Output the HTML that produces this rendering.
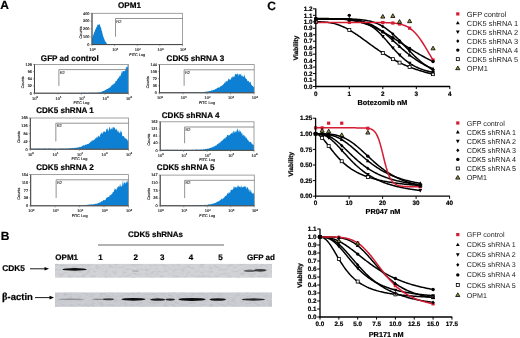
<!DOCTYPE html>
<html><head><meta charset="utf-8"><style>
html,body{margin:0;padding:0;background:#fff;}
svg{display:block;font-family:"Liberation Sans", sans-serif;text-rendering:geometricPrecision;}
</style></head><body>
<svg width="520" height="338" viewBox="0 0 520 338">
<defs><filter id="gb" filterUnits="userSpaceOnUse" x="0" y="0" width="520" height="338"><feGaussianBlur stdDeviation="0.3"/></filter></defs>
<rect width="520" height="338" fill="#fff"/>
<g filter="url(#gb)">
<text x="0.30" y="8.60" font-size="12" font-weight="bold" text-anchor="start" fill="#000"  stroke="#000" stroke-width="0.2">A</text>
<text x="0.80" y="239.60" font-size="12" font-weight="bold" text-anchor="start" fill="#000"  stroke="#000" stroke-width="0.2">B</text>
<text x="267.20" y="9.60" font-size="12" font-weight="bold" text-anchor="start" fill="#000"  stroke="#000" stroke-width="0.2">C</text>
<text x="129.50" y="8.40" font-size="8.1" font-weight="bold" text-anchor="middle" fill="#000"  stroke="#000" stroke-width="0.2">OPM1</text>
<path d="M92.00,44.60 L92.00,38.09 L92.45,37.17 L92.91,35.74 L93.36,35.02 L93.82,33.43 L94.27,32.36 L94.73,31.47 L95.18,29.78 L95.64,29.22 L96.09,27.65 L96.55,27.22 L97.00,26.39 L97.46,25.23 L97.91,24.11 L98.37,24.95 L98.82,24.71 L99.28,24.26 L99.73,24.33 L100.19,25.80 L100.64,27.22 L101.10,27.84 L101.55,30.52 L102.01,31.25 L102.46,33.46 L102.91,35.16 L103.37,36.67 L103.82,37.94 L104.28,38.97 L104.73,40.33 L105.19,41.14 L105.64,41.93 L106.10,42.62 L106.55,43.11 L107.01,43.99 L107.46,44.17 L107.92,44.21 L108.37,44.15 L108.83,44.36 L109.28,44.46 L109.74,44.48 L110.19,44.53 L110.65,44.56 L111.10,44.56 L111.56,44.58 L112.01,44.59 L112.46,44.59 L112.92,44.60 L113.37,44.60 L113.83,44.60 L114.28,44.60 L114.74,44.60 L115.19,44.60 L115.65,44.60 L116.10,44.60 L116.56,44.60 L117.01,44.60 L117.47,44.60 L117.92,44.60 L118.38,44.60 L118.83,44.60 L119.29,44.60 L119.74,44.60 L120.20,44.60 L120.65,44.60 L121.11,44.60 L121.56,44.60 L122.02,44.60 L122.47,44.60 L122.92,44.60 L123.38,44.60 L123.83,44.60 L124.29,44.60 L124.74,44.60 L125.20,44.60 L125.65,44.60 L126.11,44.60 L126.56,44.60 L127.02,44.60 L127.47,44.60 L127.93,44.60 L128.38,44.60 L128.84,44.60 L129.29,44.60 L129.75,44.60 L130.20,44.60 L130.66,44.60 L131.11,44.60 L131.57,44.60 L132.02,44.60 L132.47,44.60 L132.93,44.60 L133.38,44.60 L133.84,44.60 L134.29,44.60 L134.75,44.60 L135.20,44.60 L135.66,44.60 L136.11,44.60 L136.57,44.60 L137.02,44.60 L137.48,44.60 L137.93,44.60 L138.39,44.60 L138.84,44.60 L139.30,44.60 L139.75,44.60 L140.21,44.60 L140.66,44.60 L141.12,44.60 L141.57,44.60 L142.03,44.60 L142.48,44.60 L142.93,44.60 L143.39,44.60 L143.84,44.60 L144.30,44.60 L144.75,44.60 L145.21,44.60 L145.66,44.60 L146.12,44.60 L146.57,44.60 L147.03,44.60 L147.48,44.60 L147.94,44.60 L148.39,44.60 L148.85,44.60 L149.30,44.60 L149.76,44.60 L150.21,44.60 L150.67,44.60 L151.12,44.60 L151.58,44.60 L152.03,44.60 L152.48,44.60 L152.94,44.60 L153.39,44.60 L153.85,44.60 L154.30,44.60 L154.76,44.60 L155.21,44.60 L155.67,44.60 L156.12,44.60 L156.58,44.60 L157.03,44.60 L157.49,44.60 L157.94,44.60 L158.40,44.60 L158.85,44.60 L159.31,44.60 L159.76,44.60 L160.22,44.60 L160.67,44.60 L161.13,44.60 L161.58,44.60 L162.04,44.60 L162.49,44.60 L162.94,44.60 L163.40,44.60 L163.85,44.60 L164.31,44.60 L164.76,44.60 L165.22,44.60 L165.67,44.60 L166.13,44.60 L166.58,44.60 L167.04,44.60 L167.49,44.60 L167.95,44.60 L168.40,44.60 L168.86,44.60 L169.31,44.60 L169.77,44.60 L170.22,44.60 L170.68,44.60 L171.13,44.60 L171.59,44.60 L172.04,44.60 L172.49,44.60 L172.95,44.60 L173.40,44.60 L173.86,44.60 L174.31,44.60 L174.77,44.60 L175.22,44.60 L175.68,44.60 L176.13,44.60 L176.59,44.60 L177.04,44.60 L177.50,44.60 L177.95,44.60 L178.41,44.60 L178.86,44.60 L179.32,44.60 L179.77,44.60 L180.23,44.60 L180.68,44.60 L181.14,44.60 L181.59,44.60 L182.05,44.60 L182.50,44.60 L182.50,44.60 Z" fill="#0a80d4" stroke="none"/>
<rect x="92.00" y="13.30" width="90.50" height="31.30" fill="none" stroke="#8a8a8a" stroke-width="0.8"/>
<line x1="92.00" y1="13.30" x2="92.00" y2="44.60" stroke="#444" stroke-width="1.0" />
<line x1="92.00" y1="44.60" x2="182.50" y2="44.60" stroke="#444" stroke-width="1.0" />
<path d="M115.53,36.78 L115.53,18.50 L182.50,18.50" fill="none" stroke="#666" stroke-width="0.7"/>
<text x="116.33" y="22.50" font-size="4.0" font-weight="normal" text-anchor="start" fill="#333" stroke="#333" stroke-width="0.12">R2</text>
<line x1="90.50" y1="44.60" x2="92.00" y2="44.60" stroke="#666" stroke-width="0.6" />
<text x="89.40" y="45.90" font-size="3.8" font-weight="normal" text-anchor="end" fill="#222" stroke="#222" stroke-width="0.15">0</text>
<line x1="90.50" y1="36.77" x2="92.00" y2="36.77" stroke="#666" stroke-width="0.6" />
<text x="89.40" y="38.07" font-size="3.8" font-weight="normal" text-anchor="end" fill="#222" stroke="#222" stroke-width="0.15">100</text>
<line x1="90.50" y1="28.95" x2="92.00" y2="28.95" stroke="#666" stroke-width="0.6" />
<text x="89.40" y="30.25" font-size="3.8" font-weight="normal" text-anchor="end" fill="#222" stroke="#222" stroke-width="0.15">200</text>
<line x1="90.50" y1="21.12" x2="92.00" y2="21.12" stroke="#666" stroke-width="0.6" />
<text x="89.40" y="22.43" font-size="3.8" font-weight="normal" text-anchor="end" fill="#222" stroke="#222" stroke-width="0.15">300</text>
<line x1="90.50" y1="13.30" x2="92.00" y2="13.30" stroke="#666" stroke-width="0.6" />
<text x="89.40" y="14.60" font-size="3.8" font-weight="normal" text-anchor="end" fill="#222" stroke="#222" stroke-width="0.15">400</text>
<line x1="92.00" y1="44.60" x2="92.00" y2="46.10" stroke="#666" stroke-width="0.6" />
<text x="92.60" y="51.10" font-size="4.0" font-weight="normal" text-anchor="middle" fill="#222" stroke="#222" stroke-width="0.15">10<tspan font-size="2.8" dy="-1.6">0</tspan></text>
<line x1="114.62" y1="44.60" x2="114.62" y2="46.10" stroke="#666" stroke-width="0.6" />
<text x="115.22" y="51.10" font-size="4.0" font-weight="normal" text-anchor="middle" fill="#222" stroke="#222" stroke-width="0.15">10<tspan font-size="2.8" dy="-1.6">1</tspan></text>
<line x1="137.25" y1="44.60" x2="137.25" y2="46.10" stroke="#666" stroke-width="0.6" />
<text x="137.85" y="51.10" font-size="4.0" font-weight="normal" text-anchor="middle" fill="#222" stroke="#222" stroke-width="0.15">10<tspan font-size="2.8" dy="-1.6">2</tspan></text>
<line x1="159.88" y1="44.60" x2="159.88" y2="46.10" stroke="#666" stroke-width="0.6" />
<text x="160.47" y="51.10" font-size="4.0" font-weight="normal" text-anchor="middle" fill="#222" stroke="#222" stroke-width="0.15">10<tspan font-size="2.8" dy="-1.6">3</tspan></text>
<line x1="182.50" y1="44.60" x2="182.50" y2="46.10" stroke="#666" stroke-width="0.6" />
<text x="183.10" y="51.10" font-size="4.0" font-weight="normal" text-anchor="middle" fill="#222" stroke="#222" stroke-width="0.15">10<tspan font-size="2.8" dy="-1.6">4</tspan></text>
<text x="137.25" y="55.60" font-size="3.8" font-weight="normal" text-anchor="middle" fill="#222" stroke="#222" stroke-width="0.15">FITC Log</text>
<text x="81.80" y="32.45" font-size="3.8" font-weight="normal" text-anchor="middle" fill="#222" stroke="#222" stroke-width="0.15" transform="rotate(-90 81.80 32.45)">Counts</text>
<text x="69.80" y="60.60" font-size="8.1" font-weight="bold" text-anchor="middle" fill="#000"  stroke="#000" stroke-width="0.2">GFP ad control</text>
<path d="M34.50,93.20 L34.50,93.20 L34.96,93.20 L35.41,93.20 L35.87,93.20 L36.32,93.20 L36.78,93.20 L37.23,93.20 L37.69,93.20 L38.14,93.20 L38.60,93.20 L39.05,93.20 L39.51,93.20 L39.96,93.20 L40.42,93.20 L40.87,93.20 L41.33,93.20 L41.79,93.20 L42.24,93.20 L42.70,93.20 L43.15,93.20 L43.61,93.20 L44.06,93.20 L44.52,93.20 L44.97,93.20 L45.43,93.20 L45.88,93.20 L46.34,93.20 L46.79,93.20 L47.25,93.20 L47.70,93.20 L48.16,93.20 L48.62,93.20 L49.07,93.20 L49.53,93.20 L49.98,93.20 L50.44,93.20 L50.89,93.20 L51.35,93.20 L51.80,93.20 L52.26,93.20 L52.71,93.20 L53.17,93.20 L53.62,93.20 L54.08,93.20 L54.53,93.20 L54.99,93.20 L55.45,93.20 L55.90,93.20 L56.36,93.20 L56.81,93.20 L57.27,93.20 L57.72,93.20 L58.18,93.20 L58.63,93.20 L59.09,93.20 L59.54,93.20 L60.00,93.20 L60.45,93.20 L60.91,93.20 L61.37,93.20 L61.82,93.20 L62.28,93.20 L62.73,93.20 L63.19,93.19 L63.64,93.18 L64.10,93.17 L64.55,93.18 L65.01,93.16 L65.46,93.17 L65.92,93.16 L66.37,93.13 L66.83,93.14 L67.28,93.13 L67.74,93.11 L68.20,93.08 L68.65,93.12 L69.11,93.09 L69.56,93.10 L70.02,93.09 L70.47,93.06 L70.93,93.08 L71.38,93.07 L71.84,93.07 L72.29,92.99 L72.75,93.02 L73.20,92.99 L73.66,92.97 L74.11,93.07 L74.57,93.01 L75.03,92.94 L75.48,92.95 L75.94,93.08 L76.39,93.07 L76.85,93.00 L77.30,93.08 L77.76,93.03 L78.21,93.07 L78.67,92.92 L79.12,92.89 L79.58,92.85 L80.03,93.03 L80.49,92.88 L80.94,92.89 L81.40,93.02 L81.86,92.81 L82.31,92.77 L82.77,92.99 L83.22,92.76 L83.68,92.92 L84.13,92.89 L84.59,92.72 L85.04,92.76 L85.50,92.98 L85.95,92.88 L86.41,92.84 L86.86,92.90 L87.32,92.95 L87.77,92.90 L88.23,92.74 L88.69,93.00 L89.14,92.79 L89.60,92.83 L90.05,92.99 L90.51,92.86 L90.96,92.73 L91.42,92.77 L91.87,92.96 L92.33,92.55 L92.78,92.63 L93.24,92.54 L93.69,92.92 L94.15,92.84 L94.60,92.95 L95.06,92.59 L95.52,92.83 L95.97,92.89 L96.43,92.74 L96.88,92.48 L97.34,92.50 L97.79,92.77 L98.25,92.79 L98.70,92.22 L99.16,92.37 L99.61,92.16 L100.07,92.63 L100.52,92.59 L100.98,91.93 L101.43,91.85 L101.89,91.80 L102.35,91.36 L102.80,91.27 L103.26,91.01 L103.71,91.12 L104.17,90.53 L104.62,90.72 L105.08,90.03 L105.53,90.02 L105.99,89.84 L106.44,89.41 L106.90,88.82 L107.35,89.07 L107.81,88.90 L108.27,88.21 L108.72,88.18 L109.18,88.00 L109.63,87.61 L110.09,87.41 L110.54,86.87 L111.00,86.35 L111.45,85.97 L111.91,84.86 L112.36,85.20 L112.82,84.42 L113.27,84.57 L113.73,83.82 L114.18,84.04 L114.64,83.11 L115.10,83.18 L115.55,81.06 L116.01,80.97 L116.46,81.36 L116.92,80.12 L117.37,78.32 L117.83,80.08 L118.28,77.46 L118.74,78.04 L119.19,77.26 L119.65,75.55 L120.10,76.42 L120.56,75.42 L121.01,74.13 L121.47,70.83 L121.93,74.16 L122.38,71.53 L122.84,71.35 L123.29,70.95 L123.75,71.28 L124.20,70.86 L124.66,71.57 L125.11,70.55 L125.57,70.17 L126.02,66.02 L126.48,67.83 L126.93,67.62 L127.39,67.34 L127.84,64.40 L128.30,64.40 L128.30,93.20 Z" fill="#0a80d4" stroke="none"/>
<rect x="34.50" y="64.40" width="93.80" height="28.80" fill="none" stroke="#8a8a8a" stroke-width="0.8"/>
<line x1="34.50" y1="64.40" x2="34.50" y2="93.20" stroke="#444" stroke-width="1.0" />
<line x1="34.50" y1="93.20" x2="128.30" y2="93.20" stroke="#444" stroke-width="1.0" />
<path d="M58.89,86.00 L58.89,69.60 L128.30,69.60" fill="none" stroke="#666" stroke-width="0.7"/>
<text x="59.69" y="73.60" font-size="4.0" font-weight="normal" text-anchor="start" fill="#333" stroke="#333" stroke-width="0.12">R2</text>
<line x1="33.00" y1="93.20" x2="34.50" y2="93.20" stroke="#666" stroke-width="0.6" />
<text x="31.90" y="94.50" font-size="3.8" font-weight="normal" text-anchor="end" fill="#222" stroke="#222" stroke-width="0.15">0</text>
<line x1="33.00" y1="86.00" x2="34.50" y2="86.00" stroke="#666" stroke-width="0.6" />
<text x="31.90" y="87.30" font-size="3.8" font-weight="normal" text-anchor="end" fill="#222" stroke="#222" stroke-width="0.15">32</text>
<line x1="33.00" y1="78.80" x2="34.50" y2="78.80" stroke="#666" stroke-width="0.6" />
<text x="31.90" y="80.10" font-size="3.8" font-weight="normal" text-anchor="end" fill="#222" stroke="#222" stroke-width="0.15">64</text>
<line x1="33.00" y1="71.60" x2="34.50" y2="71.60" stroke="#666" stroke-width="0.6" />
<text x="31.90" y="72.90" font-size="3.8" font-weight="normal" text-anchor="end" fill="#222" stroke="#222" stroke-width="0.15">96</text>
<line x1="33.00" y1="64.40" x2="34.50" y2="64.40" stroke="#666" stroke-width="0.6" />
<text x="31.90" y="65.70" font-size="3.8" font-weight="normal" text-anchor="end" fill="#222" stroke="#222" stroke-width="0.15">128</text>
<line x1="34.50" y1="93.20" x2="34.50" y2="94.70" stroke="#666" stroke-width="0.6" />
<text x="35.10" y="99.70" font-size="4.0" font-weight="normal" text-anchor="middle" fill="#222" stroke="#222" stroke-width="0.15">10<tspan font-size="2.8" dy="-1.6">0</tspan></text>
<line x1="57.95" y1="93.20" x2="57.95" y2="94.70" stroke="#666" stroke-width="0.6" />
<text x="58.55" y="99.70" font-size="4.0" font-weight="normal" text-anchor="middle" fill="#222" stroke="#222" stroke-width="0.15">10<tspan font-size="2.8" dy="-1.6">1</tspan></text>
<line x1="81.40" y1="93.20" x2="81.40" y2="94.70" stroke="#666" stroke-width="0.6" />
<text x="82.00" y="99.70" font-size="4.0" font-weight="normal" text-anchor="middle" fill="#222" stroke="#222" stroke-width="0.15">10<tspan font-size="2.8" dy="-1.6">2</tspan></text>
<line x1="104.85" y1="93.20" x2="104.85" y2="94.70" stroke="#666" stroke-width="0.6" />
<text x="105.45" y="99.70" font-size="4.0" font-weight="normal" text-anchor="middle" fill="#222" stroke="#222" stroke-width="0.15">10<tspan font-size="2.8" dy="-1.6">3</tspan></text>
<line x1="128.30" y1="93.20" x2="128.30" y2="94.70" stroke="#666" stroke-width="0.6" />
<text x="128.90" y="99.70" font-size="4.0" font-weight="normal" text-anchor="middle" fill="#222" stroke="#222" stroke-width="0.15">10<tspan font-size="2.8" dy="-1.6">4</tspan></text>
<text x="81.40" y="104.20" font-size="3.8" font-weight="normal" text-anchor="middle" fill="#222" stroke="#222" stroke-width="0.15">FITC Log</text>
<text x="24.30" y="82.30" font-size="3.8" font-weight="normal" text-anchor="middle" fill="#222" stroke="#222" stroke-width="0.15" transform="rotate(-90 24.30 82.30)">Counts</text>
<text x="195.40" y="60.60" font-size="8.1" font-weight="bold" text-anchor="middle" fill="#000"  stroke="#000" stroke-width="0.2">CDK5 shRNA 3</text>
<path d="M159.50,92.80 L159.50,92.30 L159.96,92.47 L160.41,92.49 L160.87,92.46 L161.32,92.39 L161.78,92.52 L162.23,92.40 L162.69,92.48 L163.14,92.18 L163.60,92.18 L164.05,92.36 L164.51,92.49 L164.96,92.18 L165.42,92.46 L165.87,92.44 L166.33,92.59 L166.78,92.43 L167.24,92.39 L167.70,92.38 L168.15,92.50 L168.61,92.37 L169.06,92.59 L169.52,92.48 L169.97,92.55 L170.43,92.42 L170.88,92.57 L171.34,92.58 L171.79,92.46 L172.25,92.49 L172.70,92.34 L173.16,92.36 L173.61,92.27 L174.07,92.31 L174.52,92.29 L174.98,92.22 L175.44,92.42 L175.89,92.45 L176.35,92.17 L176.80,92.53 L177.26,92.28 L177.71,92.32 L178.17,92.57 L178.62,92.23 L179.08,92.21 L179.53,92.32 L179.99,92.28 L180.44,92.24 L180.90,92.53 L181.35,92.37 L181.81,92.37 L182.26,92.23 L182.72,92.25 L183.18,92.24 L183.63,92.34 L184.09,92.21 L184.54,92.30 L185.00,92.29 L185.45,92.49 L185.91,92.57 L186.36,92.53 L186.82,92.43 L187.27,92.54 L187.73,92.23 L188.18,92.34 L188.64,92.31 L189.09,92.31 L189.55,92.29 L190.00,92.37 L190.46,92.58 L190.91,92.23 L191.37,92.25 L191.83,92.35 L192.28,92.34 L192.74,92.28 L193.19,92.54 L193.65,92.23 L194.10,92.45 L194.56,92.53 L195.01,92.44 L195.47,92.21 L195.92,92.46 L196.38,92.18 L196.83,92.05 L197.29,92.29 L197.74,92.34 L198.20,92.27 L198.65,92.15 L199.11,92.08 L199.57,92.15 L200.02,92.11 L200.48,92.44 L200.93,92.38 L201.39,92.30 L201.84,91.94 L202.30,92.22 L202.75,92.00 L203.21,92.40 L203.66,92.34 L204.12,92.14 L204.57,91.74 L205.03,91.66 L205.48,91.62 L205.94,91.96 L206.39,91.66 L206.85,91.62 L207.31,91.55 L207.76,91.57 L208.22,91.28 L208.67,91.39 L209.13,90.93 L209.58,90.97 L210.04,91.18 L210.49,90.91 L210.95,90.65 L211.40,90.28 L211.86,90.54 L212.31,90.49 L212.77,90.37 L213.22,89.82 L213.68,90.07 L214.13,89.67 L214.59,89.77 L215.05,89.32 L215.50,88.80 L215.96,89.21 L216.41,88.44 L216.87,88.46 L217.32,87.87 L217.78,87.77 L218.23,87.98 L218.69,87.01 L219.14,87.17 L219.60,87.43 L220.05,87.19 L220.51,86.27 L220.96,86.01 L221.42,85.90 L221.87,85.83 L222.33,85.19 L222.79,84.90 L223.24,83.66 L223.70,84.78 L224.15,83.06 L224.61,82.50 L225.06,83.55 L225.52,81.53 L225.97,81.58 L226.43,80.77 L226.88,81.77 L227.34,81.21 L227.79,80.80 L228.25,77.89 L228.70,79.56 L229.16,79.81 L229.61,79.27 L230.07,79.36 L230.52,79.69 L230.98,79.22 L231.44,76.72 L231.89,78.07 L232.35,75.75 L232.80,77.63 L233.26,77.31 L233.71,76.26 L234.17,77.09 L234.62,76.25 L235.08,74.05 L235.53,74.09 L235.99,74.16 L236.44,74.64 L236.90,73.49 L237.35,73.27 L237.81,74.59 L238.26,73.90 L238.72,76.28 L239.18,73.77 L239.63,74.79 L240.09,73.72 L240.54,74.19 L241.00,75.59 L241.45,76.58 L241.91,73.66 L242.36,76.69 L242.82,75.75 L243.27,76.48 L243.73,76.95 L244.18,75.87 L244.64,74.26 L245.09,78.17 L245.55,77.40 L246.00,78.90 L246.46,78.63 L246.92,79.56 L247.37,80.64 L247.83,81.13 L248.28,81.50 L248.74,80.38 L249.19,81.84 L249.65,82.93 L250.10,82.05 L250.56,81.68 L251.01,83.96 L251.47,84.97 L251.92,85.33 L252.38,85.92 L252.83,85.99 L253.29,86.74 L253.74,86.95 L254.20,87.31 L254.20,92.80 Z" fill="#0a80d4" stroke="none"/>
<rect x="159.50" y="64.60" width="94.70" height="28.20" fill="none" stroke="#8a8a8a" stroke-width="0.8"/>
<line x1="159.50" y1="64.60" x2="159.50" y2="92.80" stroke="#444" stroke-width="1.0" />
<line x1="159.50" y1="92.80" x2="254.20" y2="92.80" stroke="#444" stroke-width="1.0" />
<path d="M184.12,85.75 L184.12,69.80 L254.20,69.80" fill="none" stroke="#666" stroke-width="0.7"/>
<text x="184.92" y="73.80" font-size="4.0" font-weight="normal" text-anchor="start" fill="#333" stroke="#333" stroke-width="0.12">R2</text>
<line x1="158.00" y1="92.80" x2="159.50" y2="92.80" stroke="#666" stroke-width="0.6" />
<text x="156.90" y="94.10" font-size="3.8" font-weight="normal" text-anchor="end" fill="#222" stroke="#222" stroke-width="0.15">0</text>
<line x1="158.00" y1="85.75" x2="159.50" y2="85.75" stroke="#666" stroke-width="0.6" />
<text x="156.90" y="87.05" font-size="3.8" font-weight="normal" text-anchor="end" fill="#222" stroke="#222" stroke-width="0.15">36</text>
<line x1="158.00" y1="78.70" x2="159.50" y2="78.70" stroke="#666" stroke-width="0.6" />
<text x="156.90" y="80.00" font-size="3.8" font-weight="normal" text-anchor="end" fill="#222" stroke="#222" stroke-width="0.15">72</text>
<line x1="158.00" y1="71.65" x2="159.50" y2="71.65" stroke="#666" stroke-width="0.6" />
<text x="156.90" y="72.95" font-size="3.8" font-weight="normal" text-anchor="end" fill="#222" stroke="#222" stroke-width="0.15">108</text>
<line x1="158.00" y1="64.60" x2="159.50" y2="64.60" stroke="#666" stroke-width="0.6" />
<text x="156.90" y="65.90" font-size="3.8" font-weight="normal" text-anchor="end" fill="#222" stroke="#222" stroke-width="0.15">144</text>
<line x1="159.50" y1="92.80" x2="159.50" y2="94.30" stroke="#666" stroke-width="0.6" />
<text x="160.10" y="99.30" font-size="4.0" font-weight="normal" text-anchor="middle" fill="#222" stroke="#222" stroke-width="0.15">10<tspan font-size="2.8" dy="-1.6">0</tspan></text>
<line x1="183.18" y1="92.80" x2="183.18" y2="94.30" stroke="#666" stroke-width="0.6" />
<text x="183.78" y="99.30" font-size="4.0" font-weight="normal" text-anchor="middle" fill="#222" stroke="#222" stroke-width="0.15">10<tspan font-size="2.8" dy="-1.6">1</tspan></text>
<line x1="206.85" y1="92.80" x2="206.85" y2="94.30" stroke="#666" stroke-width="0.6" />
<text x="207.45" y="99.30" font-size="4.0" font-weight="normal" text-anchor="middle" fill="#222" stroke="#222" stroke-width="0.15">10<tspan font-size="2.8" dy="-1.6">2</tspan></text>
<line x1="230.52" y1="92.80" x2="230.52" y2="94.30" stroke="#666" stroke-width="0.6" />
<text x="231.12" y="99.30" font-size="4.0" font-weight="normal" text-anchor="middle" fill="#222" stroke="#222" stroke-width="0.15">10<tspan font-size="2.8" dy="-1.6">3</tspan></text>
<line x1="254.20" y1="92.80" x2="254.20" y2="94.30" stroke="#666" stroke-width="0.6" />
<text x="254.80" y="99.30" font-size="4.0" font-weight="normal" text-anchor="middle" fill="#222" stroke="#222" stroke-width="0.15">10<tspan font-size="2.8" dy="-1.6">4</tspan></text>
<text x="206.85" y="103.80" font-size="3.8" font-weight="normal" text-anchor="middle" fill="#222" stroke="#222" stroke-width="0.15">FITC Log</text>
<text x="149.30" y="82.20" font-size="3.8" font-weight="normal" text-anchor="middle" fill="#222" stroke="#222" stroke-width="0.15" transform="rotate(-90 149.30 82.20)">Counts</text>
<text x="65.00" y="113.10" font-size="8.1" font-weight="bold" text-anchor="middle" fill="#000"  stroke="#000" stroke-width="0.2">CDK5 shRNA 1</text>
<path d="M30.30,149.20 L30.30,148.70 L30.75,148.55 L31.21,148.62 L31.66,148.77 L32.12,148.77 L32.57,148.72 L33.03,148.79 L33.48,148.81 L33.94,148.94 L34.39,148.84 L34.85,148.51 L35.30,148.91 L35.76,148.73 L36.21,148.67 L36.66,148.56 L37.12,148.86 L37.57,148.84 L38.03,148.85 L38.48,148.78 L38.94,148.76 L39.39,148.52 L39.85,148.57 L40.30,148.56 L40.76,148.96 L41.21,148.95 L41.67,148.63 L42.12,148.55 L42.58,148.74 L43.03,148.69 L43.48,148.97 L43.94,148.78 L44.39,148.53 L44.85,148.58 L45.30,148.56 L45.76,148.51 L46.21,148.85 L46.67,148.91 L47.12,148.89 L47.58,148.72 L48.03,148.64 L48.49,148.52 L48.94,148.62 L49.39,148.66 L49.85,148.60 L50.30,148.75 L50.76,148.70 L51.21,148.94 L51.67,148.59 L52.12,148.85 L52.58,148.53 L53.03,148.65 L53.49,148.82 L53.94,148.90 L54.40,148.84 L54.85,148.65 L55.30,148.62 L55.76,148.90 L56.21,148.92 L56.67,148.70 L57.12,148.67 L57.58,148.76 L58.03,148.84 L58.49,148.65 L58.94,148.94 L59.40,148.79 L59.85,148.71 L60.31,148.45 L60.76,148.60 L61.21,148.47 L61.67,148.68 L62.12,148.80 L62.58,148.79 L63.03,148.39 L63.49,148.52 L63.94,148.74 L64.40,148.89 L64.85,148.60 L65.31,148.48 L65.76,148.63 L66.22,148.72 L66.67,148.44 L67.12,148.24 L67.58,148.70 L68.03,148.82 L68.49,148.58 L68.94,148.50 L69.40,148.27 L69.85,148.63 L70.31,148.10 L70.76,148.11 L71.22,148.28 L71.67,148.53 L72.13,147.74 L72.58,148.36 L73.04,147.77 L73.49,148.37 L73.94,148.34 L74.40,147.63 L74.85,147.95 L75.31,147.70 L75.76,147.76 L76.22,147.78 L76.67,147.70 L77.13,147.55 L77.58,147.38 L78.04,147.18 L78.49,147.38 L78.95,147.18 L79.40,147.15 L79.85,146.51 L80.31,146.96 L80.76,146.89 L81.22,146.76 L81.67,146.44 L82.13,146.00 L82.58,145.84 L83.04,145.76 L83.49,145.12 L83.95,145.25 L84.40,145.51 L84.86,145.44 L85.31,144.62 L85.76,144.56 L86.22,144.99 L86.67,144.17 L87.13,144.22 L87.58,143.99 L88.04,143.79 L88.49,143.73 L88.95,143.69 L89.40,143.09 L89.86,142.72 L90.31,141.60 L90.77,142.49 L91.22,140.33 L91.67,141.79 L92.13,141.24 L92.58,140.14 L93.04,139.79 L93.49,140.14 L93.95,140.54 L94.40,139.38 L94.86,139.24 L95.31,137.74 L95.77,138.94 L96.22,138.22 L96.68,136.62 L97.13,138.31 L97.59,137.03 L98.04,135.65 L98.49,135.38 L98.95,136.95 L99.40,136.64 L99.86,136.23 L100.31,133.40 L100.77,134.99 L101.22,133.16 L101.68,132.32 L102.13,133.74 L102.59,133.63 L103.04,131.03 L103.50,131.84 L103.95,132.75 L104.40,130.86 L104.86,131.98 L105.31,131.86 L105.77,132.60 L106.22,129.56 L106.68,128.70 L107.13,129.53 L107.59,128.10 L108.04,131.48 L108.50,130.48 L108.95,129.35 L109.41,127.26 L109.86,127.12 L110.31,129.30 L110.77,129.75 L111.22,128.92 L111.68,128.59 L112.13,126.74 L112.59,129.79 L113.04,127.20 L113.50,127.47 L113.95,127.16 L114.41,127.44 L114.86,128.24 L115.32,129.53 L115.77,129.74 L116.22,129.78 L116.68,128.36 L117.13,131.40 L117.59,131.23 L118.04,129.47 L118.50,131.72 L118.95,132.75 L119.41,133.24 L119.86,131.85 L120.32,133.08 L120.77,130.11 L121.23,132.25 L121.68,131.25 L122.14,135.16 L122.59,136.17 L123.04,136.62 L123.50,136.04 L123.95,136.04 L124.41,137.23 L124.86,138.24 L125.32,138.33 L125.77,138.41 L126.23,138.82 L126.68,139.20 L127.14,139.54 L127.59,140.36 L128.05,141.72 L128.50,141.04 L128.50,149.20 Z" fill="#0a80d4" stroke="none"/>
<rect x="30.30" y="118.00" width="98.20" height="31.20" fill="none" stroke="#8a8a8a" stroke-width="0.8"/>
<line x1="30.30" y1="118.00" x2="30.30" y2="149.20" stroke="#444" stroke-width="1.0" />
<line x1="30.30" y1="149.20" x2="128.50" y2="149.20" stroke="#444" stroke-width="1.0" />
<path d="M55.83,141.40 L55.83,123.20 L128.50,123.20" fill="none" stroke="#666" stroke-width="0.7"/>
<text x="56.63" y="127.20" font-size="4.0" font-weight="normal" text-anchor="start" fill="#333" stroke="#333" stroke-width="0.12">R2</text>
<line x1="28.80" y1="149.20" x2="30.30" y2="149.20" stroke="#666" stroke-width="0.6" />
<text x="27.70" y="150.50" font-size="3.8" font-weight="normal" text-anchor="end" fill="#222" stroke="#222" stroke-width="0.15">0</text>
<line x1="28.80" y1="141.40" x2="30.30" y2="141.40" stroke="#666" stroke-width="0.6" />
<text x="27.70" y="142.70" font-size="3.8" font-weight="normal" text-anchor="end" fill="#222" stroke="#222" stroke-width="0.15">42</text>
<line x1="28.80" y1="133.60" x2="30.30" y2="133.60" stroke="#666" stroke-width="0.6" />
<text x="27.70" y="134.90" font-size="3.8" font-weight="normal" text-anchor="end" fill="#222" stroke="#222" stroke-width="0.15">84</text>
<line x1="28.80" y1="125.80" x2="30.30" y2="125.80" stroke="#666" stroke-width="0.6" />
<text x="27.70" y="127.10" font-size="3.8" font-weight="normal" text-anchor="end" fill="#222" stroke="#222" stroke-width="0.15">126</text>
<line x1="28.80" y1="118.00" x2="30.30" y2="118.00" stroke="#666" stroke-width="0.6" />
<text x="27.70" y="119.30" font-size="3.8" font-weight="normal" text-anchor="end" fill="#222" stroke="#222" stroke-width="0.15">168</text>
<line x1="30.30" y1="149.20" x2="30.30" y2="150.70" stroke="#666" stroke-width="0.6" />
<text x="30.90" y="155.70" font-size="4.0" font-weight="normal" text-anchor="middle" fill="#222" stroke="#222" stroke-width="0.15">10<tspan font-size="2.8" dy="-1.6">0</tspan></text>
<line x1="54.85" y1="149.20" x2="54.85" y2="150.70" stroke="#666" stroke-width="0.6" />
<text x="55.45" y="155.70" font-size="4.0" font-weight="normal" text-anchor="middle" fill="#222" stroke="#222" stroke-width="0.15">10<tspan font-size="2.8" dy="-1.6">1</tspan></text>
<line x1="79.40" y1="149.20" x2="79.40" y2="150.70" stroke="#666" stroke-width="0.6" />
<text x="80.00" y="155.70" font-size="4.0" font-weight="normal" text-anchor="middle" fill="#222" stroke="#222" stroke-width="0.15">10<tspan font-size="2.8" dy="-1.6">2</tspan></text>
<line x1="103.95" y1="149.20" x2="103.95" y2="150.70" stroke="#666" stroke-width="0.6" />
<text x="104.55" y="155.70" font-size="4.0" font-weight="normal" text-anchor="middle" fill="#222" stroke="#222" stroke-width="0.15">10<tspan font-size="2.8" dy="-1.6">3</tspan></text>
<line x1="128.50" y1="149.20" x2="128.50" y2="150.70" stroke="#666" stroke-width="0.6" />
<text x="129.10" y="155.70" font-size="4.0" font-weight="normal" text-anchor="middle" fill="#222" stroke="#222" stroke-width="0.15">10<tspan font-size="2.8" dy="-1.6">4</tspan></text>
<text x="79.40" y="160.20" font-size="3.8" font-weight="normal" text-anchor="middle" fill="#222" stroke="#222" stroke-width="0.15">FITC Log</text>
<text x="20.10" y="137.10" font-size="3.8" font-weight="normal" text-anchor="middle" fill="#222" stroke="#222" stroke-width="0.15" transform="rotate(-90 20.10 137.10)">Counts</text>
<text x="190.60" y="117.60" font-size="8.1" font-weight="bold" text-anchor="middle" fill="#000"  stroke="#000" stroke-width="0.2">CDK5 shRNA 4</text>
<path d="M160.20,150.30 L160.20,149.96 L160.66,149.84 L161.11,149.93 L161.57,149.77 L162.02,150.00 L162.48,149.98 L162.93,149.98 L163.39,150.02 L163.84,149.71 L164.30,149.84 L164.75,149.95 L165.21,149.92 L165.66,149.66 L166.12,149.87 L166.57,149.99 L167.03,149.74 L167.49,149.81 L167.94,149.66 L168.40,150.04 L168.85,149.88 L169.31,149.74 L169.76,149.73 L170.22,149.70 L170.67,150.07 L171.13,149.96 L171.58,150.04 L172.04,150.01 L172.49,149.67 L172.95,149.84 L173.40,149.69 L173.86,149.93 L174.32,149.72 L174.77,149.89 L175.23,149.98 L175.68,149.75 L176.14,149.68 L176.59,150.04 L177.05,149.83 L177.50,149.82 L177.96,149.99 L178.41,149.93 L178.87,150.03 L179.32,150.00 L179.78,149.98 L180.23,149.83 L180.69,149.81 L181.15,150.00 L181.60,150.08 L182.06,149.95 L182.51,149.80 L182.97,150.01 L183.42,149.95 L183.88,150.00 L184.33,149.74 L184.79,149.85 L185.24,150.06 L185.70,150.04 L186.15,149.91 L186.61,149.85 L187.07,149.81 L187.52,150.04 L187.98,150.01 L188.43,149.78 L188.89,149.90 L189.34,149.96 L189.80,149.94 L190.25,149.66 L190.71,149.94 L191.16,149.82 L191.62,149.91 L192.07,149.89 L192.53,149.68 L192.98,149.61 L193.44,149.90 L193.90,149.97 L194.35,149.72 L194.81,149.96 L195.26,150.05 L195.72,149.60 L196.17,149.83 L196.63,149.62 L197.08,149.82 L197.54,149.55 L197.99,149.76 L198.45,149.92 L198.90,150.00 L199.36,149.66 L199.81,149.58 L200.27,149.37 L200.73,149.90 L201.18,149.50 L201.64,149.65 L202.09,149.52 L202.55,149.77 L203.00,149.63 L203.46,149.37 L203.91,148.93 L204.37,149.68 L204.82,149.24 L205.28,148.81 L205.73,148.88 L206.19,149.09 L206.64,149.03 L207.10,148.71 L207.56,148.47 L208.01,148.65 L208.47,148.69 L208.92,148.25 L209.38,148.33 L209.83,147.98 L210.29,147.95 L210.74,147.69 L211.20,147.87 L211.65,147.36 L212.11,147.50 L212.56,147.20 L213.02,146.70 L213.47,146.48 L213.93,146.73 L214.39,146.48 L214.84,146.08 L215.30,145.72 L215.75,145.58 L216.21,145.56 L216.66,145.16 L217.12,144.32 L217.57,143.78 L218.03,144.51 L218.48,143.50 L218.94,142.87 L219.39,143.56 L219.85,141.98 L220.30,142.76 L220.76,141.57 L221.22,141.26 L221.67,140.71 L222.13,140.92 L222.58,140.30 L223.04,139.55 L223.49,139.47 L223.95,138.52 L224.40,138.59 L224.86,138.20 L225.31,138.84 L225.77,136.90 L226.22,136.83 L226.68,137.14 L227.13,135.25 L227.59,134.79 L228.05,135.36 L228.50,135.85 L228.96,134.59 L229.41,135.43 L229.87,135.06 L230.32,133.75 L230.78,134.62 L231.23,133.15 L231.69,132.65 L232.14,134.09 L232.60,131.74 L233.05,133.56 L233.51,131.00 L233.97,130.69 L234.42,131.55 L234.88,133.17 L235.33,131.41 L235.79,131.83 L236.24,129.64 L236.70,132.73 L237.15,130.04 L237.61,128.09 L238.06,130.70 L238.52,130.54 L238.97,133.01 L239.43,128.88 L239.88,132.35 L240.34,130.97 L240.80,131.43 L241.25,134.34 L241.71,132.57 L242.16,132.49 L242.62,135.68 L243.07,135.16 L243.53,134.34 L243.98,136.56 L244.44,134.87 L244.89,137.08 L245.35,136.09 L245.80,138.32 L246.26,137.88 L246.71,137.37 L247.17,139.52 L247.63,139.86 L248.08,139.81 L248.54,140.66 L248.99,141.65 L249.45,141.81 L249.90,142.27 L250.36,141.42 L250.81,142.29 L251.27,142.42 L251.72,143.86 L252.18,143.43 L252.63,144.66 L253.09,144.52 L253.54,144.77 L254.00,145.39 L254.00,150.30 Z" fill="#0a80d4" stroke="none"/>
<rect x="160.20" y="121.80" width="93.80" height="28.50" fill="none" stroke="#8a8a8a" stroke-width="0.8"/>
<line x1="160.20" y1="121.80" x2="160.20" y2="150.30" stroke="#444" stroke-width="1.0" />
<line x1="160.20" y1="150.30" x2="254.00" y2="150.30" stroke="#444" stroke-width="1.0" />
<path d="M184.59,143.18 L184.59,127.00 L254.00,127.00" fill="none" stroke="#666" stroke-width="0.7"/>
<text x="185.39" y="131.00" font-size="4.0" font-weight="normal" text-anchor="start" fill="#333" stroke="#333" stroke-width="0.12">R2</text>
<line x1="158.70" y1="150.30" x2="160.20" y2="150.30" stroke="#666" stroke-width="0.6" />
<text x="157.60" y="151.60" font-size="3.8" font-weight="normal" text-anchor="end" fill="#222" stroke="#222" stroke-width="0.15">0</text>
<line x1="158.70" y1="143.18" x2="160.20" y2="143.18" stroke="#666" stroke-width="0.6" />
<text x="157.60" y="144.48" font-size="3.8" font-weight="normal" text-anchor="end" fill="#222" stroke="#222" stroke-width="0.15">40</text>
<line x1="158.70" y1="136.05" x2="160.20" y2="136.05" stroke="#666" stroke-width="0.6" />
<text x="157.60" y="137.35" font-size="3.8" font-weight="normal" text-anchor="end" fill="#222" stroke="#222" stroke-width="0.15">81</text>
<line x1="158.70" y1="128.93" x2="160.20" y2="128.93" stroke="#666" stroke-width="0.6" />
<text x="157.60" y="130.23" font-size="3.8" font-weight="normal" text-anchor="end" fill="#222" stroke="#222" stroke-width="0.15">121</text>
<line x1="158.70" y1="121.80" x2="160.20" y2="121.80" stroke="#666" stroke-width="0.6" />
<text x="157.60" y="123.10" font-size="3.8" font-weight="normal" text-anchor="end" fill="#222" stroke="#222" stroke-width="0.15">162</text>
<line x1="160.20" y1="150.30" x2="160.20" y2="151.80" stroke="#666" stroke-width="0.6" />
<text x="160.80" y="156.80" font-size="4.0" font-weight="normal" text-anchor="middle" fill="#222" stroke="#222" stroke-width="0.15">10<tspan font-size="2.8" dy="-1.6">0</tspan></text>
<line x1="183.65" y1="150.30" x2="183.65" y2="151.80" stroke="#666" stroke-width="0.6" />
<text x="184.25" y="156.80" font-size="4.0" font-weight="normal" text-anchor="middle" fill="#222" stroke="#222" stroke-width="0.15">10<tspan font-size="2.8" dy="-1.6">1</tspan></text>
<line x1="207.10" y1="150.30" x2="207.10" y2="151.80" stroke="#666" stroke-width="0.6" />
<text x="207.70" y="156.80" font-size="4.0" font-weight="normal" text-anchor="middle" fill="#222" stroke="#222" stroke-width="0.15">10<tspan font-size="2.8" dy="-1.6">2</tspan></text>
<line x1="230.55" y1="150.30" x2="230.55" y2="151.80" stroke="#666" stroke-width="0.6" />
<text x="231.15" y="156.80" font-size="4.0" font-weight="normal" text-anchor="middle" fill="#222" stroke="#222" stroke-width="0.15">10<tspan font-size="2.8" dy="-1.6">3</tspan></text>
<line x1="254.00" y1="150.30" x2="254.00" y2="151.80" stroke="#666" stroke-width="0.6" />
<text x="254.60" y="156.80" font-size="4.0" font-weight="normal" text-anchor="middle" fill="#222" stroke="#222" stroke-width="0.15">10<tspan font-size="2.8" dy="-1.6">4</tspan></text>
<text x="207.10" y="161.30" font-size="3.8" font-weight="normal" text-anchor="middle" fill="#222" stroke="#222" stroke-width="0.15">FITC Log</text>
<text x="150.00" y="139.55" font-size="3.8" font-weight="normal" text-anchor="middle" fill="#222" stroke="#222" stroke-width="0.15" transform="rotate(-90 150.00 139.55)">Counts</text>
<text x="65.00" y="169.60" font-size="8.1" font-weight="bold" text-anchor="middle" fill="#000"  stroke="#000" stroke-width="0.2">CDK5 shRNA 2</text>
<path d="M30.70,205.80 L30.70,205.80 L31.15,205.80 L31.61,205.80 L32.06,205.80 L32.52,205.80 L32.97,205.80 L33.43,205.80 L33.88,205.80 L34.34,205.80 L34.79,205.80 L35.25,205.80 L35.70,205.80 L36.16,205.80 L36.61,205.80 L37.07,205.80 L37.52,205.80 L37.98,205.80 L38.43,205.80 L38.89,205.80 L39.34,205.80 L39.80,205.80 L40.25,205.80 L40.71,205.80 L41.16,205.80 L41.62,205.80 L42.07,205.80 L42.53,205.80 L42.98,205.80 L43.44,205.80 L43.89,205.80 L44.35,205.80 L44.80,205.80 L45.26,205.80 L45.71,205.80 L46.17,205.80 L46.62,205.80 L47.08,205.80 L47.53,205.80 L47.99,205.80 L48.44,205.80 L48.90,205.80 L49.35,205.80 L49.81,205.80 L50.26,205.80 L50.71,205.80 L51.17,205.80 L51.62,205.80 L52.08,205.80 L52.53,205.80 L52.99,205.80 L53.44,205.80 L53.90,205.80 L54.35,205.80 L54.81,205.80 L55.26,205.80 L55.72,205.80 L56.17,205.80 L56.63,205.80 L57.08,205.80 L57.54,205.80 L57.99,205.80 L58.45,205.80 L58.90,205.79 L59.36,205.79 L59.81,205.80 L60.27,205.79 L60.72,205.79 L61.18,205.78 L61.63,205.77 L62.09,205.77 L62.54,205.77 L63.00,205.73 L63.45,205.77 L63.91,205.73 L64.36,205.69 L64.82,205.75 L65.27,205.74 L65.73,205.69 L66.18,205.69 L66.64,205.67 L67.09,205.64 L67.55,205.71 L68.00,205.69 L68.46,205.68 L68.91,205.71 L69.37,205.57 L69.82,205.58 L70.27,205.58 L70.73,205.70 L71.18,205.53 L71.64,205.54 L72.09,205.59 L72.55,205.52 L73.00,205.57 L73.46,205.62 L73.91,205.64 L74.37,205.60 L74.82,205.65 L75.28,205.56 L75.73,205.43 L76.19,205.43 L76.64,205.36 L77.10,205.39 L77.55,205.53 L78.01,205.42 L78.46,205.45 L78.92,205.30 L79.37,205.39 L79.83,205.48 L80.28,205.30 L80.74,205.14 L81.19,205.46 L81.65,205.13 L82.10,205.54 L82.56,205.40 L83.01,205.40 L83.47,205.09 L83.92,204.94 L84.38,205.03 L84.83,205.27 L85.29,204.88 L85.74,205.22 L86.20,205.26 L86.65,204.73 L87.11,204.90 L87.56,204.81 L88.02,204.79 L88.47,204.46 L88.93,204.88 L89.38,204.47 L89.83,204.55 L90.29,204.31 L90.74,204.72 L91.20,204.32 L91.65,204.51 L92.11,204.52 L92.56,204.48 L93.02,204.29 L93.47,204.37 L93.93,204.02 L94.38,204.19 L94.84,204.15 L95.29,204.02 L95.75,203.59 L96.20,203.72 L96.66,203.69 L97.11,203.63 L97.57,203.49 L98.02,203.01 L98.48,202.88 L98.93,202.68 L99.39,202.47 L99.84,202.73 L100.30,202.18 L100.75,202.14 L101.21,201.57 L101.66,201.32 L102.12,201.00 L102.57,201.51 L103.03,200.47 L103.48,200.12 L103.94,199.77 L104.39,200.42 L104.85,200.00 L105.30,199.81 L105.76,199.60 L106.21,198.11 L106.67,197.76 L107.12,197.64 L107.58,196.92 L108.03,196.82 L108.49,197.02 L108.94,196.97 L109.39,196.58 L109.85,194.79 L110.30,195.52 L110.76,194.83 L111.21,194.13 L111.67,194.67 L112.12,193.64 L112.58,193.12 L113.03,191.48 L113.49,191.98 L113.94,191.66 L114.40,188.06 L114.85,190.20 L115.31,188.63 L115.76,188.92 L116.22,190.46 L116.67,188.75 L117.13,188.26 L117.58,186.63 L118.04,187.80 L118.49,186.07 L118.95,186.32 L119.40,187.23 L119.86,184.31 L120.31,187.10 L120.77,183.79 L121.22,186.19 L121.68,186.63 L122.13,185.52 L122.59,182.82 L123.04,179.83 L123.50,185.68 L123.95,183.28 L124.41,183.06 L124.86,181.45 L125.32,184.08 L125.77,182.45 L126.23,182.97 L126.68,180.52 L127.14,183.08 L127.59,179.65 L128.05,182.69 L128.50,182.90 L128.50,205.80 Z" fill="#0a80d4" stroke="none"/>
<rect x="30.70" y="174.60" width="97.80" height="31.20" fill="none" stroke="#8a8a8a" stroke-width="0.8"/>
<line x1="30.70" y1="174.60" x2="30.70" y2="205.80" stroke="#444" stroke-width="1.0" />
<line x1="30.70" y1="205.80" x2="128.50" y2="205.80" stroke="#444" stroke-width="1.0" />
<path d="M56.13,198.00 L56.13,179.80 L128.50,179.80" fill="none" stroke="#666" stroke-width="0.7"/>
<text x="56.93" y="183.80" font-size="4.0" font-weight="normal" text-anchor="start" fill="#333" stroke="#333" stroke-width="0.12">R2</text>
<line x1="29.20" y1="205.80" x2="30.70" y2="205.80" stroke="#666" stroke-width="0.6" />
<text x="28.10" y="207.10" font-size="3.8" font-weight="normal" text-anchor="end" fill="#222" stroke="#222" stroke-width="0.15">0</text>
<line x1="29.20" y1="198.00" x2="30.70" y2="198.00" stroke="#666" stroke-width="0.6" />
<text x="28.10" y="199.30" font-size="3.8" font-weight="normal" text-anchor="end" fill="#222" stroke="#222" stroke-width="0.15">38</text>
<line x1="29.20" y1="190.20" x2="30.70" y2="190.20" stroke="#666" stroke-width="0.6" />
<text x="28.10" y="191.50" font-size="3.8" font-weight="normal" text-anchor="end" fill="#222" stroke="#222" stroke-width="0.15">77</text>
<line x1="29.20" y1="182.40" x2="30.70" y2="182.40" stroke="#666" stroke-width="0.6" />
<text x="28.10" y="183.70" font-size="3.8" font-weight="normal" text-anchor="end" fill="#222" stroke="#222" stroke-width="0.15">115</text>
<line x1="29.20" y1="174.60" x2="30.70" y2="174.60" stroke="#666" stroke-width="0.6" />
<text x="28.10" y="175.90" font-size="3.8" font-weight="normal" text-anchor="end" fill="#222" stroke="#222" stroke-width="0.15">154</text>
<line x1="30.70" y1="205.80" x2="30.70" y2="207.30" stroke="#666" stroke-width="0.6" />
<text x="31.30" y="212.30" font-size="4.0" font-weight="normal" text-anchor="middle" fill="#222" stroke="#222" stroke-width="0.15">10<tspan font-size="2.8" dy="-1.6">0</tspan></text>
<line x1="55.15" y1="205.80" x2="55.15" y2="207.30" stroke="#666" stroke-width="0.6" />
<text x="55.75" y="212.30" font-size="4.0" font-weight="normal" text-anchor="middle" fill="#222" stroke="#222" stroke-width="0.15">10<tspan font-size="2.8" dy="-1.6">1</tspan></text>
<line x1="79.60" y1="205.80" x2="79.60" y2="207.30" stroke="#666" stroke-width="0.6" />
<text x="80.20" y="212.30" font-size="4.0" font-weight="normal" text-anchor="middle" fill="#222" stroke="#222" stroke-width="0.15">10<tspan font-size="2.8" dy="-1.6">2</tspan></text>
<line x1="104.05" y1="205.80" x2="104.05" y2="207.30" stroke="#666" stroke-width="0.6" />
<text x="104.65" y="212.30" font-size="4.0" font-weight="normal" text-anchor="middle" fill="#222" stroke="#222" stroke-width="0.15">10<tspan font-size="2.8" dy="-1.6">3</tspan></text>
<line x1="128.50" y1="205.80" x2="128.50" y2="207.30" stroke="#666" stroke-width="0.6" />
<text x="129.10" y="212.30" font-size="4.0" font-weight="normal" text-anchor="middle" fill="#222" stroke="#222" stroke-width="0.15">10<tspan font-size="2.8" dy="-1.6">4</tspan></text>
<text x="79.60" y="216.80" font-size="3.8" font-weight="normal" text-anchor="middle" fill="#222" stroke="#222" stroke-width="0.15">FITC Log</text>
<text x="20.50" y="193.70" font-size="3.8" font-weight="normal" text-anchor="middle" fill="#222" stroke="#222" stroke-width="0.15" transform="rotate(-90 20.50 193.70)">Counts</text>
<text x="185.70" y="169.60" font-size="8.1" font-weight="bold" text-anchor="middle" fill="#000"  stroke="#000" stroke-width="0.2">CDK5 shRNA 5</text>
<path d="M160.20,205.80 L160.20,205.25 L160.65,205.34 L161.11,205.52 L161.56,205.28 L162.02,205.53 L162.47,205.21 L162.93,205.25 L163.38,205.21 L163.84,205.28 L164.29,205.41 L164.75,205.38 L165.20,205.39 L165.66,205.16 L166.11,205.53 L166.56,205.16 L167.02,205.56 L167.47,205.47 L167.93,205.45 L168.38,205.15 L168.84,205.34 L169.29,205.40 L169.75,205.16 L170.20,205.46 L170.66,205.36 L171.11,205.32 L171.56,205.22 L172.02,205.22 L172.47,205.27 L172.93,205.41 L173.38,205.42 L173.84,205.50 L174.29,205.18 L174.75,205.26 L175.20,205.23 L175.66,205.49 L176.11,205.37 L176.57,205.21 L177.02,205.30 L177.47,205.51 L177.93,205.36 L178.38,205.16 L178.84,205.46 L179.29,205.48 L179.75,205.43 L180.20,205.25 L180.66,205.18 L181.11,205.50 L181.57,205.50 L182.02,205.46 L182.47,205.42 L182.93,205.33 L183.38,205.50 L183.84,205.42 L184.29,205.48 L184.75,205.12 L185.20,205.23 L185.66,205.52 L186.11,205.12 L186.57,205.52 L187.02,205.39 L187.48,205.11 L187.93,205.20 L188.38,205.23 L188.84,205.37 L189.29,205.48 L189.75,205.27 L190.20,205.52 L190.66,205.47 L191.11,205.39 L191.57,205.55 L192.02,205.38 L192.48,205.19 L192.93,205.24 L193.39,205.33 L193.84,205.26 L194.29,205.34 L194.75,205.49 L195.20,205.27 L195.66,205.36 L196.11,205.19 L196.57,205.10 L197.02,205.34 L197.48,205.26 L197.93,205.16 L198.39,205.32 L198.84,205.42 L199.29,205.15 L199.75,205.05 L200.20,205.10 L200.66,205.12 L201.11,205.02 L201.57,205.10 L202.02,205.10 L202.48,205.20 L202.93,205.27 L203.39,205.04 L203.84,205.38 L204.30,205.14 L204.75,204.84 L205.20,204.85 L205.66,204.87 L206.11,205.15 L206.57,204.97 L207.02,204.89 L207.48,204.68 L207.93,204.84 L208.39,204.48 L208.84,204.10 L209.30,204.62 L209.75,204.42 L210.20,204.30 L210.66,204.32 L211.11,204.19 L211.57,203.79 L212.02,204.14 L212.48,203.83 L212.93,203.86 L213.39,203.46 L213.84,203.23 L214.30,203.27 L214.75,203.33 L215.21,202.89 L215.66,202.72 L216.11,202.41 L216.57,202.33 L217.02,202.02 L217.48,201.63 L217.93,201.62 L218.39,201.46 L218.84,200.70 L219.30,201.13 L219.75,200.35 L220.21,200.36 L220.66,199.62 L221.11,200.07 L221.57,198.11 L222.02,199.11 L222.48,199.20 L222.93,198.53 L223.39,197.97 L223.84,198.23 L224.30,197.16 L224.75,196.76 L225.21,195.82 L225.66,196.08 L226.12,195.85 L226.57,195.53 L227.02,193.95 L227.48,193.03 L227.93,193.56 L228.39,193.90 L228.84,191.97 L229.30,192.61 L229.75,192.70 L230.21,192.53 L230.66,190.24 L231.12,189.71 L231.57,189.83 L232.03,189.95 L232.48,189.28 L232.93,190.03 L233.39,185.82 L233.84,188.94 L234.30,187.62 L234.75,186.67 L235.21,186.38 L235.66,187.39 L236.12,187.81 L236.57,186.64 L237.03,188.07 L237.48,185.17 L237.93,186.89 L238.39,184.83 L238.84,187.03 L239.30,186.54 L239.75,186.99 L240.21,186.29 L240.66,187.25 L241.12,188.01 L241.57,185.22 L242.03,187.03 L242.48,187.27 L242.94,187.16 L243.39,186.60 L243.84,186.96 L244.30,186.34 L244.75,186.46 L245.21,187.78 L245.66,185.93 L246.12,186.46 L246.57,189.58 L247.03,187.13 L247.48,187.18 L247.94,187.92 L248.39,190.39 L248.84,188.45 L249.30,189.44 L249.75,191.73 L250.21,192.06 L250.66,189.59 L251.12,190.86 L251.57,192.39 L252.03,193.16 L252.48,193.41 L252.94,193.53 L253.39,192.54 L253.85,194.00 L254.30,194.83 L254.30,205.80 Z" fill="#0a80d4" stroke="none"/>
<rect x="160.20" y="175.10" width="94.10" height="30.70" fill="none" stroke="#8a8a8a" stroke-width="0.8"/>
<line x1="160.20" y1="175.10" x2="160.20" y2="205.80" stroke="#444" stroke-width="1.0" />
<line x1="160.20" y1="205.80" x2="254.30" y2="205.80" stroke="#444" stroke-width="1.0" />
<path d="M184.67,198.12 L184.67,180.30 L254.30,180.30" fill="none" stroke="#666" stroke-width="0.7"/>
<text x="185.47" y="184.30" font-size="4.0" font-weight="normal" text-anchor="start" fill="#333" stroke="#333" stroke-width="0.12">R2</text>
<line x1="158.70" y1="205.80" x2="160.20" y2="205.80" stroke="#666" stroke-width="0.6" />
<text x="157.60" y="207.10" font-size="3.8" font-weight="normal" text-anchor="end" fill="#222" stroke="#222" stroke-width="0.15">0</text>
<line x1="158.70" y1="198.12" x2="160.20" y2="198.12" stroke="#666" stroke-width="0.6" />
<text x="157.60" y="199.43" font-size="3.8" font-weight="normal" text-anchor="end" fill="#222" stroke="#222" stroke-width="0.15">36</text>
<line x1="158.70" y1="190.45" x2="160.20" y2="190.45" stroke="#666" stroke-width="0.6" />
<text x="157.60" y="191.75" font-size="3.8" font-weight="normal" text-anchor="end" fill="#222" stroke="#222" stroke-width="0.15">73</text>
<line x1="158.70" y1="182.78" x2="160.20" y2="182.78" stroke="#666" stroke-width="0.6" />
<text x="157.60" y="184.08" font-size="3.8" font-weight="normal" text-anchor="end" fill="#222" stroke="#222" stroke-width="0.15">110</text>
<line x1="158.70" y1="175.10" x2="160.20" y2="175.10" stroke="#666" stroke-width="0.6" />
<text x="157.60" y="176.40" font-size="3.8" font-weight="normal" text-anchor="end" fill="#222" stroke="#222" stroke-width="0.15">147</text>
<line x1="160.20" y1="205.80" x2="160.20" y2="207.30" stroke="#666" stroke-width="0.6" />
<text x="160.80" y="212.30" font-size="4.0" font-weight="normal" text-anchor="middle" fill="#222" stroke="#222" stroke-width="0.15">10<tspan font-size="2.8" dy="-1.6">0</tspan></text>
<line x1="183.72" y1="205.80" x2="183.72" y2="207.30" stroke="#666" stroke-width="0.6" />
<text x="184.32" y="212.30" font-size="4.0" font-weight="normal" text-anchor="middle" fill="#222" stroke="#222" stroke-width="0.15">10<tspan font-size="2.8" dy="-1.6">1</tspan></text>
<line x1="207.25" y1="205.80" x2="207.25" y2="207.30" stroke="#666" stroke-width="0.6" />
<text x="207.85" y="212.30" font-size="4.0" font-weight="normal" text-anchor="middle" fill="#222" stroke="#222" stroke-width="0.15">10<tspan font-size="2.8" dy="-1.6">2</tspan></text>
<line x1="230.78" y1="205.80" x2="230.78" y2="207.30" stroke="#666" stroke-width="0.6" />
<text x="231.38" y="212.30" font-size="4.0" font-weight="normal" text-anchor="middle" fill="#222" stroke="#222" stroke-width="0.15">10<tspan font-size="2.8" dy="-1.6">3</tspan></text>
<line x1="254.30" y1="205.80" x2="254.30" y2="207.30" stroke="#666" stroke-width="0.6" />
<text x="254.90" y="212.30" font-size="4.0" font-weight="normal" text-anchor="middle" fill="#222" stroke="#222" stroke-width="0.15">10<tspan font-size="2.8" dy="-1.6">4</tspan></text>
<text x="207.25" y="216.80" font-size="3.8" font-weight="normal" text-anchor="middle" fill="#222" stroke="#222" stroke-width="0.15">FITC Log</text>
<text x="150.00" y="193.95" font-size="3.8" font-weight="normal" text-anchor="middle" fill="#222" stroke="#222" stroke-width="0.15" transform="rotate(-90 150.00 193.95)">Counts</text>
<text x="155.50" y="236.90" font-size="8" font-weight="bold" text-anchor="middle" fill="#000"  stroke="#000" stroke-width="0.2">CDK5 shRNAs</text>
<line x1="98.00" y1="245.00" x2="224.00" y2="245.00" stroke="#666" stroke-width="1.1" />
<text x="66.70" y="259.80" font-size="8" font-weight="bold" text-anchor="middle" fill="#000"  stroke="#000" stroke-width="0.2">OPM1</text>
<text x="100.50" y="259.80" font-size="8" font-weight="bold" text-anchor="middle" fill="#000"  stroke="#000" stroke-width="0.2">1</text>
<text x="135.70" y="259.80" font-size="8" font-weight="bold" text-anchor="middle" fill="#000"  stroke="#000" stroke-width="0.2">2</text>
<text x="162.20" y="259.80" font-size="8" font-weight="bold" text-anchor="middle" fill="#000"  stroke="#000" stroke-width="0.2">3</text>
<text x="191.00" y="259.80" font-size="8" font-weight="bold" text-anchor="middle" fill="#000"  stroke="#000" stroke-width="0.2">4</text>
<text x="220.40" y="259.80" font-size="8" font-weight="bold" text-anchor="middle" fill="#000"  stroke="#000" stroke-width="0.2">5</text>
<text x="261.00" y="259.80" font-size="8" font-weight="bold" text-anchor="middle" fill="#000"  stroke="#000" stroke-width="0.2">GFP ad</text>
<text x="2.20" y="270.60" font-size="8.4" font-weight="bold" text-anchor="start" fill="#000"  stroke="#000" stroke-width="0.2">CDK5</text>
<text x="2.00" y="299.90" font-size="9.5" font-weight="bold" text-anchor="start" fill="#000"  stroke="#000" stroke-width="0.2"><tspan font-weight="bold" font-family="Liberation Serif, serif" font-size="10.5">β</tspan>-actin</text>
<line x1="30.00" y1="268.80" x2="45.50" y2="268.80" stroke="#000" stroke-width="0.9" />
<path d="M44.50,267.00 L49.00,268.80 L44.50,270.60 Z" fill="#000"/>
<line x1="35.00" y1="297.60" x2="50.50" y2="297.60" stroke="#000" stroke-width="0.9" />
<path d="M49.50,295.80 L54.00,297.60 L49.50,299.40 Z" fill="#000"/>
<defs><filter id="blur1" x="-20%" y="-50%" width="140%" height="200%"><feGaussianBlur stdDeviation="0.45"/></filter><filter id="blur2" x="-5%" y="-20%" width="110%" height="140%"><feGaussianBlur stdDeviation="0.5"/></filter></defs>
<defs><filter id="tex" filterUnits="userSpaceOnUse" x="55" y="260" width="217" height="50"><feTurbulence type="fractalNoise" baseFrequency="0.22 0.45" numOctaves="2" seed="5" result="n"/><feColorMatrix in="n" type="matrix" values="0 0 0 0 0.45  0 0 0 0 0.46  0 0 0 0 0.5  1.6 0 0 0 -0.72" result="c"/><feComposite in="c" in2="SourceGraphic" operator="in"/></filter></defs>
<rect x="55" y="263.9" width="217" height="13.8" fill="#d2d3d7"/>
<rect x="55" y="292.4" width="217" height="14.4" fill="#cbcdd2"/>
<rect x="55" y="263.9" width="217" height="13.8" filter="url(#tex)" opacity="0.85"/>
<rect x="55" y="292.4" width="217" height="14.4" filter="url(#tex)" opacity="0.85"/>
<ellipse cx="74.55" cy="269.40" rx="12.25" ry="1.30" fill="#111" opacity="1.0" filter="url(#blur1)"/>
<ellipse cx="249.75" cy="270.80" rx="6.25" ry="1.30" fill="#111" opacity="0.55" filter="url(#blur1)"/>
<ellipse cx="260.25" cy="270.30" rx="6.25" ry="1.40" fill="#111" opacity="0.75" filter="url(#blur1)"/>
<ellipse cx="135.50" cy="271.00" rx="3.50" ry="0.50" fill="#111" opacity="0.3" filter="url(#blur1)"/>
<ellipse cx="71.00" cy="299.20" rx="13.00" ry="0.75" fill="#111" opacity="0.3" filter="url(#blur1)"/>
<ellipse cx="99.00" cy="299.30" rx="7.00" ry="0.65" fill="#111" opacity="0.35" filter="url(#blur1)"/>
<ellipse cx="108.50" cy="299.20" rx="5.50" ry="1.00" fill="#111" opacity="0.75" filter="url(#blur1)"/>
<ellipse cx="133.40" cy="299.30" rx="12.10" ry="1.40" fill="#111" opacity="1.0" filter="url(#blur1)"/>
<ellipse cx="157.75" cy="299.60" rx="7.75" ry="1.25" fill="#111" opacity="0.9" filter="url(#blur1)"/>
<ellipse cx="170.25" cy="299.60" rx="4.75" ry="1.15" fill="#111" opacity="0.85" filter="url(#blur1)"/>
<ellipse cx="192.00" cy="299.40" rx="13.50" ry="1.50" fill="#111" opacity="1.0" filter="url(#blur1)"/>
<ellipse cx="217.75" cy="299.50" rx="8.25" ry="1.30" fill="#111" opacity="0.95" filter="url(#blur1)"/>
<ellipse cx="253.40" cy="299.50" rx="11.60" ry="1.15" fill="#111" opacity="0.85" filter="url(#blur1)"/>
<path d="M315.80,18.56 L316.78,18.57 L317.75,18.57 L318.73,18.57 L319.71,18.57 L320.69,18.57 L321.66,18.57 L322.64,18.57 L323.62,18.57 L324.59,18.58 L325.57,18.58 L326.55,18.59 L327.53,18.60 L328.50,18.61 L329.48,18.63 L330.46,18.65 L331.43,18.67 L332.41,18.69 L333.39,18.72 L334.36,18.75 L335.34,18.78 L336.32,18.83 L337.30,18.87 L338.27,18.92 L339.25,18.98 L340.23,19.04 L341.20,19.11 L342.18,19.19 L343.16,19.27 L344.14,19.36 L345.11,19.46 L346.09,19.57 L347.07,19.69 L348.04,19.81 L349.02,19.95 L350.00,20.09 L350.98,20.25 L351.95,20.41 L352.93,20.59 L353.91,20.77 L354.88,20.97 L355.86,21.18 L356.84,21.40 L357.81,21.63 L358.79,21.87 L359.77,22.13 L360.75,22.40 L361.72,22.68 L362.70,22.98 L363.68,23.28 L364.65,23.60 L365.63,23.94 L366.61,24.28 L367.59,24.64 L368.56,25.01 L369.54,25.40 L370.52,25.79 L371.49,26.20 L372.47,26.63 L373.45,27.06 L374.43,27.51 L375.40,27.97 L376.38,28.44 L377.36,28.92 L378.33,29.41 L379.31,29.92 L380.29,30.43 L381.26,30.96 L382.24,31.49 L383.22,32.03 L384.20,32.58 L385.17,33.15 L386.15,33.71 L387.13,34.29 L388.10,34.87 L389.08,35.46 L390.06,36.06 L391.04,36.66 L392.01,37.26 L392.99,37.87 L393.97,38.49 L394.94,39.11 L395.92,39.73 L396.90,40.35 L397.88,40.97 L398.85,41.60 L399.83,42.23 L400.81,42.86 L401.78,43.48 L402.76,44.11 L403.74,44.74 L404.71,45.36 L405.69,45.98 L406.67,46.61 L407.65,47.22 L408.62,47.84 L409.60,48.45 L410.58,49.06 L411.55,49.66 L412.53,50.26 L413.51,50.86 L414.49,51.45 L415.46,52.04 L416.44,52.62 L417.42,53.19 L418.39,53.76 L419.37,54.32 L420.35,54.88 L421.32,55.43 L422.30,55.97 L423.28,56.51 L424.26,57.03 L425.23,57.56 L426.21,58.07 L427.19,58.58 L428.16,59.08 L429.14,59.58 L430.12,60.06 L431.10,60.54 L432.07,61.02 L433.05,61.48" fill="none" stroke="#000" stroke-width="1.5"/>
<path d="M315.80,18.89 L316.78,18.89 L317.75,18.89 L318.73,18.89 L319.71,18.89 L320.69,18.89 L321.66,18.89 L322.64,18.89 L323.62,18.89 L324.59,18.89 L325.57,18.89 L326.55,18.89 L327.53,18.89 L328.50,18.89 L329.48,18.89 L330.46,18.90 L331.43,18.90 L332.41,18.90 L333.39,18.91 L334.36,18.92 L335.34,18.92 L336.32,18.93 L337.30,18.94 L338.27,18.96 L339.25,18.97 L340.23,18.99 L341.20,19.02 L342.18,19.04 L343.16,19.07 L344.14,19.11 L345.11,19.15 L346.09,19.20 L347.07,19.25 L348.04,19.31 L349.02,19.38 L350.00,19.45 L350.98,19.54 L351.95,19.63 L352.93,19.74 L353.91,19.85 L354.88,19.98 L355.86,20.12 L356.84,20.28 L357.81,20.44 L358.79,20.63 L359.77,20.83 L360.75,21.05 L361.72,21.28 L362.70,21.54 L363.68,21.81 L364.65,22.10 L365.63,22.42 L366.61,22.76 L367.59,23.12 L368.56,23.50 L369.54,23.91 L370.52,24.34 L371.49,24.79 L372.47,25.27 L373.45,25.78 L374.43,26.31 L375.40,26.87 L376.38,27.45 L377.36,28.05 L378.33,28.68 L379.31,29.34 L380.29,30.02 L381.26,30.72 L382.24,31.44 L383.22,32.18 L384.20,32.95 L385.17,33.73 L386.15,34.53 L387.13,35.35 L388.10,36.18 L389.08,37.02 L390.06,37.88 L391.04,38.74 L392.01,39.62 L392.99,40.50 L393.97,41.38 L394.94,42.28 L395.92,43.17 L396.90,44.06 L397.88,44.95 L398.85,45.84 L399.83,46.72 L400.81,47.60 L401.78,48.47 L402.76,49.34 L403.74,50.19 L404.71,51.03 L405.69,51.87 L406.67,52.68 L407.65,53.49 L408.62,54.28 L409.60,55.06 L410.58,55.82 L411.55,56.57 L412.53,57.30 L413.51,58.01 L414.49,58.71 L415.46,59.38 L416.44,60.05 L417.42,60.69 L418.39,61.32 L419.37,61.93 L420.35,62.52 L421.32,63.09 L422.30,63.65 L423.28,64.19 L424.26,64.72 L425.23,65.23 L426.21,65.72 L427.19,66.20 L428.16,66.66 L429.14,67.11 L430.12,67.54 L431.10,67.96 L432.07,68.36 L433.05,68.75" fill="none" stroke="#000" stroke-width="1.5"/>
<path d="M315.80,18.89 L316.78,18.89 L317.75,18.89 L318.73,18.89 L319.71,18.89 L320.69,18.89 L321.66,18.89 L322.64,18.89 L323.62,18.89 L324.59,18.89 L325.57,18.89 L326.55,18.89 L327.53,18.89 L328.50,18.89 L329.48,18.89 L330.46,18.89 L331.43,18.89 L332.41,18.89 L333.39,18.90 L334.36,18.90 L335.34,18.90 L336.32,18.91 L337.30,18.92 L338.27,18.92 L339.25,18.93 L340.23,18.95 L341.20,18.96 L342.18,18.98 L343.16,19.00 L344.14,19.03 L345.11,19.06 L346.09,19.10 L347.07,19.15 L348.04,19.20 L349.02,19.26 L350.00,19.33 L350.98,19.41 L351.95,19.50 L352.93,19.60 L353.91,19.72 L354.88,19.86 L355.86,20.01 L356.84,20.18 L357.81,20.37 L358.79,20.58 L359.77,20.82 L360.75,21.08 L361.72,21.37 L362.70,21.69 L363.68,22.04 L364.65,22.42 L365.63,22.84 L366.61,23.29 L367.59,23.78 L368.56,24.30 L369.54,24.87 L370.52,25.47 L371.49,26.12 L372.47,26.80 L373.45,27.53 L374.43,28.30 L375.40,29.11 L376.38,29.95 L377.36,30.84 L378.33,31.76 L379.31,32.71 L380.29,33.70 L381.26,34.72 L382.24,35.76 L383.22,36.83 L384.20,37.91 L385.17,39.01 L386.15,40.13 L387.13,41.26 L388.10,42.39 L389.08,43.52 L390.06,44.65 L391.04,45.78 L392.01,46.89 L392.99,48.00 L393.97,49.09 L394.94,50.17 L395.92,51.22 L396.90,52.25 L397.88,53.26 L398.85,54.25 L399.83,55.21 L400.81,56.14 L401.78,57.04 L402.76,57.91 L403.74,58.76 L404.71,59.57 L405.69,60.35 L406.67,61.10 L407.65,61.83 L408.62,62.52 L409.60,63.19 L410.58,63.82 L411.55,64.43 L412.53,65.01 L413.51,65.57 L414.49,66.10 L415.46,66.61 L416.44,67.09 L417.42,67.55 L418.39,67.99 L419.37,68.40 L420.35,68.80 L421.32,69.17 L422.30,69.53 L423.28,69.87 L424.26,70.20 L425.23,70.51 L426.21,70.80 L427.19,71.08 L428.16,71.34 L429.14,71.59 L430.12,71.83 L431.10,72.06 L432.07,72.27 L433.05,72.48" fill="none" stroke="#000" stroke-width="1.5"/>
<path d="M315.80,18.89 L316.78,18.89 L317.75,18.89 L318.73,18.89 L319.71,18.89 L320.69,18.89 L321.66,18.89 L322.64,18.89 L323.62,18.89 L324.59,18.89 L325.57,18.89 L326.55,18.89 L327.53,18.89 L328.50,18.89 L329.48,18.89 L330.46,18.89 L331.43,18.89 L332.41,18.89 L333.39,18.89 L334.36,18.89 L335.34,18.89 L336.32,18.90 L337.30,18.90 L338.27,18.90 L339.25,18.90 L340.23,18.91 L341.20,18.91 L342.18,18.92 L343.16,18.93 L344.14,18.94 L345.11,18.95 L346.09,18.96 L347.07,18.98 L348.04,18.99 L349.02,19.02 L350.00,19.04 L350.98,19.07 L351.95,19.10 L352.93,19.14 L353.91,19.18 L354.88,19.22 L355.86,19.28 L356.84,19.34 L357.81,19.40 L358.79,19.48 L359.77,19.56 L360.75,19.66 L361.72,19.76 L362.70,19.88 L363.68,20.01 L364.65,20.15 L365.63,20.30 L366.61,20.47 L367.59,20.66 L368.56,20.87 L369.54,21.09 L370.52,21.33 L371.49,21.59 L372.47,21.87 L373.45,22.18 L374.43,22.51 L375.40,22.86 L376.38,23.24 L377.36,23.65 L378.33,24.08 L379.31,24.55 L380.29,25.04 L381.26,25.56 L382.24,26.11 L383.22,26.69 L384.20,27.30 L385.17,27.94 L386.15,28.62 L387.13,29.32 L388.10,30.05 L389.08,30.81 L390.06,31.61 L391.04,32.43 L392.01,33.27 L392.99,34.14 L393.97,35.04 L394.94,35.96 L395.92,36.90 L396.90,37.86 L397.88,38.83 L398.85,39.82 L399.83,40.82 L400.81,41.84 L401.78,42.86 L402.76,43.89 L403.74,44.92 L404.71,45.96 L405.69,46.99 L406.67,48.02 L407.65,49.05 L408.62,50.07 L409.60,51.08 L410.58,52.08 L411.55,53.07 L412.53,54.04 L413.51,55.00 L414.49,55.94 L415.46,56.87 L416.44,57.77 L417.42,58.66 L418.39,59.53 L419.37,60.37 L420.35,61.20 L421.32,62.00 L422.30,62.78 L423.28,63.54 L424.26,64.27 L425.23,64.98 L426.21,65.67 L427.19,66.34 L428.16,66.99 L429.14,67.61 L430.12,68.21 L431.10,68.79 L432.07,69.35 L433.05,69.89" fill="none" stroke="#000" stroke-width="1.5"/>
<path d="M315.80,21.80 L316.78,21.80 L317.75,21.80 L318.73,21.81 L319.71,21.83 L320.69,21.85 L321.66,21.88 L322.64,21.93 L323.62,21.98 L324.59,22.05 L325.57,22.13 L326.55,22.23 L327.53,22.34 L328.50,22.47 L329.48,22.62 L330.46,22.78 L331.43,22.97 L332.41,23.17 L333.39,23.39 L334.36,23.64 L335.34,23.90 L336.32,24.19 L337.30,24.49 L338.27,24.82 L339.25,25.17 L340.23,25.54 L341.20,25.93 L342.18,26.34 L343.16,26.78 L344.14,27.23 L345.11,27.70 L346.09,28.20 L347.07,28.71 L348.04,29.24 L349.02,29.78 L350.00,30.35 L350.98,30.93 L351.95,31.52 L352.93,32.13 L353.91,32.76 L354.88,33.39 L355.86,34.04 L356.84,34.70 L357.81,35.37 L358.79,36.05 L359.77,36.73 L360.75,37.42 L361.72,38.12 L362.70,38.83 L363.68,39.53 L364.65,40.24 L365.63,40.96 L366.61,41.67 L367.59,42.39 L368.56,43.10 L369.54,43.81 L370.52,44.53 L371.49,45.24 L372.47,45.94 L373.45,46.65 L374.43,47.34 L375.40,48.04 L376.38,48.72 L377.36,49.41 L378.33,50.08 L379.31,50.75 L380.29,51.41 L381.26,52.06 L382.24,52.71 L383.22,53.34 L384.20,53.97 L385.17,54.59 L386.15,55.20 L387.13,55.80 L388.10,56.40 L389.08,56.98 L390.06,57.55 L391.04,58.11 L392.01,58.67 L392.99,59.21 L393.97,59.75 L394.94,60.27 L395.92,60.79 L396.90,61.29 L397.88,61.79 L398.85,62.27 L399.83,62.75 L400.81,63.22 L401.78,63.68 L402.76,64.12 L403.74,64.56 L404.71,64.99 L405.69,65.42 L406.67,65.83 L407.65,66.23 L408.62,66.63 L409.60,67.02 L410.58,67.39 L411.55,67.76 L412.53,68.13 L413.51,68.48 L414.49,68.83 L415.46,69.17 L416.44,69.50 L417.42,69.83 L418.39,70.14 L419.37,70.45 L420.35,70.76 L421.32,71.06 L422.30,71.35 L423.28,71.63 L424.26,71.91 L425.23,72.18 L426.21,72.45 L427.19,72.71 L428.16,72.96 L429.14,73.21 L430.12,73.45 L431.10,73.69 L432.07,73.92 L433.05,74.15" fill="none" stroke="#000" stroke-width="1.5"/>
<path d="M315.80,22.45 L316.78,22.45 L317.75,22.45 L318.73,22.45 L319.71,22.45 L320.69,22.45 L321.66,22.45 L322.64,22.45 L323.62,22.45 L324.59,22.45 L325.57,22.45 L326.55,22.45 L327.53,22.45 L328.50,22.45 L329.48,22.45 L330.46,22.45 L331.43,22.45 L332.41,22.45 L333.39,22.45 L334.36,22.45 L335.34,22.45 L336.32,22.45 L337.30,22.45 L338.27,22.45 L339.25,22.45 L340.23,22.45 L341.20,22.45 L342.18,22.45 L343.16,22.45 L344.14,22.45 L345.11,22.45 L346.09,22.45 L347.07,22.45 L348.04,22.45 L349.02,22.45 L350.00,22.45 L350.98,22.45 L351.95,22.45 L352.93,22.45 L353.91,22.45 L354.88,22.45 L355.86,22.45 L356.84,22.45 L357.81,22.45 L358.79,22.45 L359.77,22.45 L360.75,22.45 L361.72,22.45 L362.70,22.45 L363.68,22.45 L364.65,22.45 L365.63,22.45 L366.61,22.45 L367.59,22.45 L368.56,22.45 L369.54,22.45 L370.52,22.46 L371.49,22.46 L372.47,22.46 L373.45,22.47 L374.43,22.47 L375.40,22.47 L376.38,22.48 L377.36,22.49 L378.33,22.50 L379.31,22.50 L380.29,22.52 L381.26,22.53 L382.24,22.55 L383.22,22.57 L384.20,22.59 L385.17,22.61 L386.15,22.64 L387.13,22.68 L388.10,22.72 L389.08,22.77 L390.06,22.82 L391.04,22.89 L392.01,22.96 L392.99,23.04 L393.97,23.14 L394.94,23.25 L395.92,23.37 L396.90,23.52 L397.88,23.68 L398.85,23.86 L399.83,24.07 L400.81,24.30 L401.78,24.57 L402.76,24.86 L403.74,25.20 L404.71,25.57 L405.69,25.98 L406.67,26.44 L407.65,26.95 L408.62,27.51 L409.60,28.13 L410.58,28.80 L411.55,29.55 L412.53,30.35 L413.51,31.23 L414.49,32.17 L415.46,33.19 L416.44,34.27 L417.42,35.43 L418.39,36.66 L419.37,37.96 L420.35,39.32 L421.32,40.75 L422.30,42.22 L423.28,43.75 L424.26,45.32 L425.23,46.93 L426.21,48.56 L427.19,50.21 L428.16,51.87 L429.14,53.53 L430.12,55.18 L431.10,56.81 L432.07,58.42 L433.05,59.99" fill="none" stroke="#d41a30" stroke-width="1.5"/>
<rect x="314.20" y="20.85" width="3.20" height="3.20" fill="#d41a30"/>
<rect x="347.70" y="20.85" width="3.20" height="3.20" fill="#d41a30"/>
<rect x="381.20" y="20.96" width="3.20" height="3.20" fill="#d41a30"/>
<rect x="391.25" y="21.43" width="3.20" height="3.20" fill="#d41a30"/>
<rect x="397.95" y="22.41" width="3.20" height="3.20" fill="#d41a30"/>
<rect x="408.00" y="26.53" width="3.20" height="3.20" fill="#d41a30"/>
<rect x="431.45" y="58.39" width="3.20" height="3.20" fill="#d41a30"/>
<rect x="314.30" y="20.30" width="3.00" height="3.00" fill="#fff" stroke="#000" stroke-width="0.8"/>
<rect x="347.80" y="28.44" width="3.00" height="3.00" fill="#fff" stroke="#000" stroke-width="0.8"/>
<rect x="381.30" y="51.57" width="3.00" height="3.00" fill="#fff" stroke="#000" stroke-width="0.8"/>
<rect x="391.35" y="57.64" width="3.00" height="3.00" fill="#fff" stroke="#000" stroke-width="0.8"/>
<rect x="398.05" y="61.12" width="3.00" height="3.00" fill="#fff" stroke="#000" stroke-width="0.8"/>
<rect x="408.10" y="65.52" width="3.00" height="3.00" fill="#fff" stroke="#000" stroke-width="0.8"/>
<rect x="431.55" y="72.65" width="3.00" height="3.00" fill="#fff" stroke="#000" stroke-width="0.8"/>
<circle cx="315.80" cy="18.56" r="1.70" fill="#000"/>
<circle cx="349.30" cy="19.99" r="1.70" fill="#000"/>
<circle cx="382.80" cy="31.80" r="1.70" fill="#000"/>
<circle cx="392.85" cy="37.79" r="1.70" fill="#000"/>
<circle cx="399.55" cy="42.05" r="1.70" fill="#000"/>
<circle cx="409.60" cy="48.45" r="1.70" fill="#000"/>
<circle cx="433.05" cy="61.48" r="1.70" fill="#000"/>
<path d="M315.80,16.89 L317.70,20.29 L313.90,20.29 Z" fill="#000"/>
<path d="M349.30,17.40 L351.20,20.80 L347.40,20.80 Z" fill="#000"/>
<path d="M382.80,29.86 L384.70,33.26 L380.90,33.26 Z" fill="#000"/>
<path d="M392.85,38.37 L394.75,41.77 L390.95,41.77 Z" fill="#000"/>
<path d="M399.55,44.47 L401.45,47.87 L397.65,47.87 Z" fill="#000"/>
<path d="M409.60,53.06 L411.50,56.46 L407.70,56.46 Z" fill="#000"/>
<path d="M433.05,66.75 L434.95,70.15 L431.15,70.15 Z" fill="#000"/>
<path d="M315.80,20.89 L317.70,17.49 L313.90,17.49 Z" fill="#000"/>
<path d="M349.30,21.28 L351.20,17.88 L347.40,17.88 Z" fill="#000"/>
<path d="M382.80,38.37 L384.70,34.97 L380.90,34.97 Z" fill="#000"/>
<path d="M392.85,49.84 L394.75,46.44 L390.95,46.44 Z" fill="#000"/>
<path d="M399.55,56.94 L401.45,53.54 L397.65,53.54 Z" fill="#000"/>
<path d="M409.60,65.19 L411.50,61.79 L407.70,61.79 Z" fill="#000"/>
<path d="M433.05,74.48 L434.95,71.08 L431.15,71.08 Z" fill="#000"/>
<path d="M315.80,16.99 L317.40,18.89 L315.80,20.79 L314.20,18.89 Z" fill="#000"/>
<path d="M349.30,17.12 L350.90,19.02 L349.30,20.92 L347.70,19.02 Z" fill="#000"/>
<path d="M382.80,24.54 L384.40,26.44 L382.80,28.34 L381.20,26.44 Z" fill="#000"/>
<path d="M392.85,32.12 L394.45,34.02 L392.85,35.92 L391.25,34.02 Z" fill="#000"/>
<path d="M399.55,38.64 L401.15,40.54 L399.55,42.44 L397.95,40.54 Z" fill="#000"/>
<path d="M409.60,49.18 L411.20,51.08 L409.60,52.98 L408.00,51.08 Z" fill="#000"/>
<path d="M433.05,67.99 L434.65,69.89 L433.05,71.79 L431.45,69.89 Z" fill="#000"/>
<circle cx="349.30" cy="15.33" r="1.70" fill="#000"/>
<path d="M382.80,14.42 L384.90,18.12 L380.70,18.12 Z" fill="#98923e" stroke="#000" stroke-width="0.8"/>
<path d="M392.85,13.78 L394.95,17.48 L390.75,17.48 Z" fill="#98923e" stroke="#000" stroke-width="0.8"/>
<path d="M399.55,19.60 L401.65,23.30 L397.45,23.30 Z" fill="#98923e" stroke="#000" stroke-width="0.8"/>
<path d="M409.60,18.95 L411.70,22.65 L407.50,22.65 Z" fill="#98923e" stroke="#000" stroke-width="0.8"/>
<path d="M433.05,46.13 L435.15,49.83 L430.95,49.83 Z" fill="#98923e" stroke="#000" stroke-width="0.8"/>
<line x1="315.80" y1="86.50" x2="315.80" y2="8.56" stroke="#000" stroke-width="1.3" />
<line x1="315.20" y1="86.50" x2="450.10" y2="86.50" stroke="#000" stroke-width="1.3" />
<line x1="313.00" y1="86.50" x2="315.80" y2="86.50" stroke="#000" stroke-width="1" />
<text x="312.40" y="88.70" font-size="6.3" font-weight="bold" text-anchor="end" fill="#000" stroke="#000" stroke-width="0.2">0.0</text>
<line x1="313.00" y1="80.03" x2="315.80" y2="80.03" stroke="#000" stroke-width="1" />
<text x="312.40" y="82.23" font-size="6.3" font-weight="bold" text-anchor="end" fill="#000" stroke="#000" stroke-width="0.2">0.1</text>
<line x1="313.00" y1="73.56" x2="315.80" y2="73.56" stroke="#000" stroke-width="1" />
<text x="312.40" y="75.76" font-size="6.3" font-weight="bold" text-anchor="end" fill="#000" stroke="#000" stroke-width="0.2">0.2</text>
<line x1="313.00" y1="67.09" x2="315.80" y2="67.09" stroke="#000" stroke-width="1" />
<text x="312.40" y="69.29" font-size="6.3" font-weight="bold" text-anchor="end" fill="#000" stroke="#000" stroke-width="0.2">0.3</text>
<line x1="313.00" y1="60.62" x2="315.80" y2="60.62" stroke="#000" stroke-width="1" />
<text x="312.40" y="62.82" font-size="6.3" font-weight="bold" text-anchor="end" fill="#000" stroke="#000" stroke-width="0.2">0.4</text>
<line x1="313.00" y1="54.15" x2="315.80" y2="54.15" stroke="#000" stroke-width="1" />
<text x="312.40" y="56.35" font-size="6.3" font-weight="bold" text-anchor="end" fill="#000" stroke="#000" stroke-width="0.2">0.5</text>
<line x1="313.00" y1="47.68" x2="315.80" y2="47.68" stroke="#000" stroke-width="1" />
<text x="312.40" y="49.88" font-size="6.3" font-weight="bold" text-anchor="end" fill="#000" stroke="#000" stroke-width="0.2">0.6</text>
<line x1="313.00" y1="41.21" x2="315.80" y2="41.21" stroke="#000" stroke-width="1" />
<text x="312.40" y="43.41" font-size="6.3" font-weight="bold" text-anchor="end" fill="#000" stroke="#000" stroke-width="0.2">0.7</text>
<line x1="313.00" y1="34.74" x2="315.80" y2="34.74" stroke="#000" stroke-width="1" />
<text x="312.40" y="36.94" font-size="6.3" font-weight="bold" text-anchor="end" fill="#000" stroke="#000" stroke-width="0.2">0.8</text>
<line x1="313.00" y1="28.27" x2="315.80" y2="28.27" stroke="#000" stroke-width="1" />
<text x="312.40" y="30.47" font-size="6.3" font-weight="bold" text-anchor="end" fill="#000" stroke="#000" stroke-width="0.2">0.9</text>
<line x1="313.00" y1="21.80" x2="315.80" y2="21.80" stroke="#000" stroke-width="1" />
<text x="312.40" y="24.00" font-size="6.3" font-weight="bold" text-anchor="end" fill="#000" stroke="#000" stroke-width="0.2">1.0</text>
<line x1="313.00" y1="15.33" x2="315.80" y2="15.33" stroke="#000" stroke-width="1" />
<text x="312.40" y="17.53" font-size="6.3" font-weight="bold" text-anchor="end" fill="#000" stroke="#000" stroke-width="0.2">1.1</text>
<line x1="313.00" y1="8.86" x2="315.80" y2="8.86" stroke="#000" stroke-width="1" />
<text x="312.40" y="11.06" font-size="6.3" font-weight="bold" text-anchor="end" fill="#000" stroke="#000" stroke-width="0.2">1.2</text>
<line x1="315.80" y1="86.50" x2="315.80" y2="89.10" stroke="#000" stroke-width="1" />
<text x="315.80" y="96.00" font-size="6.3" font-weight="bold" text-anchor="middle" fill="#000" stroke="#000" stroke-width="0.2">0</text>
<line x1="349.30" y1="86.50" x2="349.30" y2="89.10" stroke="#000" stroke-width="1" />
<text x="349.30" y="96.00" font-size="6.3" font-weight="bold" text-anchor="middle" fill="#000" stroke="#000" stroke-width="0.2">1</text>
<line x1="382.80" y1="86.50" x2="382.80" y2="89.10" stroke="#000" stroke-width="1" />
<text x="382.80" y="96.00" font-size="6.3" font-weight="bold" text-anchor="middle" fill="#000" stroke="#000" stroke-width="0.2">2</text>
<line x1="416.30" y1="86.50" x2="416.30" y2="89.10" stroke="#000" stroke-width="1" />
<text x="416.30" y="96.00" font-size="6.3" font-weight="bold" text-anchor="middle" fill="#000" stroke="#000" stroke-width="0.2">3</text>
<line x1="449.80" y1="86.50" x2="449.80" y2="89.10" stroke="#000" stroke-width="1" />
<text x="449.80" y="96.00" font-size="6.3" font-weight="bold" text-anchor="middle" fill="#000" stroke="#000" stroke-width="0.2">4</text>
<text x="382.50" y="104.50" font-size="7.3" font-weight="bold" text-anchor="middle" fill="#000"  stroke="#000" stroke-width="0.2">Botezomib nM</text>
<text x="298.20" y="48.00" font-size="6.4" font-weight="bold" text-anchor="middle" fill="#000" stroke="#000" stroke-width="0.25" transform="rotate(-90 298.20 48.00)">Viability</text>
<rect x="456.20" y="12.30" width="3.20" height="3.20" fill="#d41a30"/>
<text x="466.80" y="16.50" font-size="7.45" font-weight="normal" text-anchor="start" fill="#222" >GFP control</text>
<path d="M457.80,20.95 L459.70,24.35 L455.90,24.35 Z" fill="#000"/>
<text x="466.80" y="25.55" font-size="7.45" font-weight="normal" text-anchor="start" fill="#222" >CDK5 shRNA 1</text>
<path d="M457.80,34.00 L459.70,30.60 L455.90,30.60 Z" fill="#000"/>
<text x="466.80" y="34.60" font-size="7.45" font-weight="normal" text-anchor="start" fill="#222" >CDK5 shRNA 2</text>
<path d="M457.80,39.15 L459.40,41.05 L457.80,42.95 L456.20,41.05 Z" fill="#000"/>
<text x="466.80" y="43.65" font-size="7.45" font-weight="normal" text-anchor="start" fill="#222" >CDK5 shRNA 3</text>
<circle cx="457.80" cy="50.10" r="1.70" fill="#000"/>
<text x="466.80" y="52.70" font-size="7.45" font-weight="normal" text-anchor="start" fill="#222" >CDK5 shRNA 4</text>
<rect x="456.30" y="57.65" width="3.00" height="3.00" fill="#fff" stroke="#000" stroke-width="0.8"/>
<text x="466.80" y="61.75" font-size="7.45" font-weight="normal" text-anchor="start" fill="#222" >CDK5 shRNA 5</text>
<path d="M457.80,66.00 L459.90,69.70 L455.70,69.70 Z" fill="#98923e" stroke="#000" stroke-width="0.8"/>
<text x="466.80" y="70.80" font-size="7.45" font-weight="normal" text-anchor="start" fill="#222" >OPM1</text>
<path d="M315.60,133.80 L316.47,133.80 L317.34,133.80 L318.22,133.80 L319.09,133.80 L319.96,133.81 L320.83,133.81 L321.71,133.82 L322.58,133.83 L323.45,133.85 L324.32,133.87 L325.20,133.90 L326.07,133.93 L326.94,133.97 L327.81,134.02 L328.69,134.08 L329.56,134.15 L330.43,134.23 L331.30,134.33 L332.18,134.44 L333.05,134.56 L333.92,134.70 L334.79,134.86 L335.67,135.03 L336.54,135.23 L337.41,135.44 L338.28,135.67 L339.15,135.93 L340.03,136.21 L340.90,136.51 L341.77,136.83 L342.64,137.18 L343.52,137.55 L344.39,137.95 L345.26,138.37 L346.13,138.81 L347.01,139.29 L347.88,139.78 L348.75,140.30 L349.62,140.85 L350.50,141.42 L351.37,142.01 L352.24,142.62 L353.11,143.26 L353.99,143.92 L354.86,144.60 L355.73,145.29 L356.60,146.00 L357.48,146.73 L358.35,147.48 L359.22,148.24 L360.09,149.01 L360.96,149.79 L361.84,150.58 L362.71,151.38 L363.58,152.18 L364.45,152.99 L365.33,153.80 L366.20,154.62 L367.07,155.43 L367.94,156.25 L368.82,157.06 L369.69,157.87 L370.56,158.67 L371.43,159.47 L372.31,160.26 L373.18,161.05 L374.05,161.83 L374.92,162.59 L375.80,163.35 L376.67,164.10 L377.54,164.83 L378.41,165.55 L379.28,166.26 L380.16,166.96 L381.03,167.65 L381.90,168.32 L382.77,168.97 L383.65,169.62 L384.52,170.25 L385.39,170.86 L386.26,171.46 L387.14,172.05 L388.01,172.62 L388.88,173.18 L389.75,173.72 L390.63,174.25 L391.50,174.77 L392.37,175.27 L393.24,175.76 L394.12,176.23 L394.99,176.70 L395.86,177.15 L396.73,177.58 L397.61,178.01 L398.48,178.42 L399.35,178.82 L400.22,179.21 L401.09,179.59 L401.97,179.95 L402.84,180.31 L403.71,180.66 L404.58,180.99 L405.46,181.32 L406.33,181.63 L407.20,181.94 L408.07,182.24 L408.95,182.52 L409.82,182.80 L410.69,183.07 L411.56,183.34 L412.44,183.59 L413.31,183.84 L414.18,184.08 L415.05,184.31 L415.93,184.54 L416.80,184.76 L417.67,184.97 L418.54,185.18 L419.42,185.38 L420.29,185.57" fill="none" stroke="#000" stroke-width="1.5"/>
<path d="M315.60,133.80 L316.47,133.80 L317.34,133.80 L318.22,133.81 L319.09,133.82 L319.96,133.83 L320.83,133.85 L321.71,133.88 L322.58,133.92 L323.45,133.98 L324.32,134.04 L325.20,134.12 L326.07,134.22 L326.94,134.33 L327.81,134.46 L328.69,134.61 L329.56,134.77 L330.43,134.96 L331.30,135.18 L332.18,135.41 L333.05,135.67 L333.92,135.96 L334.79,136.27 L335.67,136.60 L336.54,136.96 L337.41,137.34 L338.28,137.76 L339.15,138.19 L340.03,138.66 L340.90,139.14 L341.77,139.66 L342.64,140.19 L343.52,140.75 L344.39,141.33 L345.26,141.94 L346.13,142.56 L347.01,143.21 L347.88,143.87 L348.75,144.54 L349.62,145.24 L350.50,145.95 L351.37,146.67 L352.24,147.40 L353.11,148.14 L353.99,148.89 L354.86,149.64 L355.73,150.40 L356.60,151.17 L357.48,151.93 L358.35,152.70 L359.22,153.47 L360.09,154.23 L360.96,155.00 L361.84,155.76 L362.71,156.51 L363.58,157.26 L364.45,158.00 L365.33,158.73 L366.20,159.46 L367.07,160.18 L367.94,160.88 L368.82,161.58 L369.69,162.26 L370.56,162.94 L371.43,163.60 L372.31,164.25 L373.18,164.88 L374.05,165.51 L374.92,166.12 L375.80,166.72 L376.67,167.30 L377.54,167.88 L378.41,168.44 L379.28,168.98 L380.16,169.52 L381.03,170.04 L381.90,170.55 L382.77,171.04 L383.65,171.52 L384.52,171.99 L385.39,172.45 L386.26,172.90 L387.14,173.33 L388.01,173.75 L388.88,174.16 L389.75,174.56 L390.63,174.95 L391.50,175.33 L392.37,175.70 L393.24,176.06 L394.12,176.41 L394.99,176.74 L395.86,177.07 L396.73,177.39 L397.61,177.70 L398.48,178.00 L399.35,178.30 L400.22,178.58 L401.09,178.86 L401.97,179.13 L402.84,179.39 L403.71,179.64 L404.58,179.89 L405.46,180.13 L406.33,180.36 L407.20,180.59 L408.07,180.81 L408.95,181.02 L409.82,181.23 L410.69,181.43 L411.56,181.63 L412.44,181.82 L413.31,182.00 L414.18,182.18 L415.05,182.36 L415.93,182.53 L416.80,182.69 L417.67,182.86 L418.54,183.01 L419.42,183.17 L420.29,183.31" fill="none" stroke="#000" stroke-width="1.5"/>
<path d="M315.60,133.80 L316.47,133.80 L317.34,133.81 L318.22,133.84 L319.09,133.88 L319.96,133.94 L320.83,134.03 L321.71,134.14 L322.58,134.28 L323.45,134.45 L324.32,134.65 L325.20,134.88 L326.07,135.15 L326.94,135.45 L327.81,135.79 L328.69,136.16 L329.56,136.57 L330.43,137.02 L331.30,137.50 L332.18,138.01 L333.05,138.57 L333.92,139.15 L334.79,139.76 L335.67,140.41 L336.54,141.08 L337.41,141.78 L338.28,142.50 L339.15,143.25 L340.03,144.02 L340.90,144.80 L341.77,145.60 L342.64,146.42 L343.52,147.24 L344.39,148.08 L345.26,148.92 L346.13,149.77 L347.01,150.62 L347.88,151.47 L348.75,152.32 L349.62,153.17 L350.50,154.01 L351.37,154.85 L352.24,155.68 L353.11,156.50 L353.99,157.31 L354.86,158.12 L355.73,158.91 L356.60,159.68 L357.48,160.45 L358.35,161.20 L359.22,161.94 L360.09,162.66 L360.96,163.37 L361.84,164.06 L362.71,164.74 L363.58,165.40 L364.45,166.04 L365.33,166.67 L366.20,167.29 L367.07,167.89 L367.94,168.47 L368.82,169.04 L369.69,169.59 L370.56,170.12 L371.43,170.65 L372.31,171.15 L373.18,171.65 L374.05,172.13 L374.92,172.59 L375.80,173.04 L376.67,173.48 L377.54,173.91 L378.41,174.32 L379.28,174.72 L380.16,175.11 L381.03,175.49 L381.90,175.86 L382.77,176.21 L383.65,176.56 L384.52,176.89 L385.39,177.22 L386.26,177.54 L387.14,177.84 L388.01,178.14 L388.88,178.43 L389.75,178.71 L390.63,178.98 L391.50,179.24 L392.37,179.50 L393.24,179.74 L394.12,179.98 L394.99,180.22 L395.86,180.44 L396.73,180.66 L397.61,180.88 L398.48,181.09 L399.35,181.29 L400.22,181.48 L401.09,181.67 L401.97,181.86 L402.84,182.04 L403.71,182.21 L404.58,182.38 L405.46,182.55 L406.33,182.71 L407.20,182.86 L408.07,183.01 L408.95,183.16 L409.82,183.30 L410.69,183.44 L411.56,183.58 L412.44,183.71 L413.31,183.84 L414.18,183.96 L415.05,184.09 L415.93,184.20 L416.80,184.32 L417.67,184.43 L418.54,184.54 L419.42,184.65 L420.29,184.75" fill="none" stroke="#000" stroke-width="1.5"/>
<path d="M315.60,133.80 L316.47,133.81 L317.34,133.83 L318.22,133.89 L319.09,133.98 L319.96,134.10 L320.83,134.26 L321.71,134.47 L322.58,134.72 L323.45,135.01 L324.32,135.36 L325.20,135.74 L326.07,136.18 L326.94,136.66 L327.81,137.18 L328.69,137.75 L329.56,138.37 L330.43,139.02 L331.30,139.72 L332.18,140.45 L333.05,141.22 L333.92,142.02 L334.79,142.85 L335.67,143.70 L336.54,144.59 L337.41,145.49 L338.28,146.41 L339.15,147.34 L340.03,148.29 L340.90,149.25 L341.77,150.22 L342.64,151.19 L343.52,152.16 L344.39,153.13 L345.26,154.10 L346.13,155.06 L347.01,156.02 L347.88,156.97 L348.75,157.91 L349.62,158.84 L350.50,159.75 L351.37,160.66 L352.24,161.54 L353.11,162.42 L353.99,163.27 L354.86,164.11 L355.73,164.93 L356.60,165.74 L357.48,166.53 L358.35,167.30 L359.22,168.05 L360.09,168.78 L360.96,169.49 L361.84,170.19 L362.71,170.87 L363.58,171.53 L364.45,172.17 L365.33,172.79 L366.20,173.40 L367.07,173.99 L367.94,174.57 L368.82,175.12 L369.69,175.66 L370.56,176.19 L371.43,176.70 L372.31,177.19 L373.18,177.68 L374.05,178.14 L374.92,178.59 L375.80,179.03 L376.67,179.46 L377.54,179.87 L378.41,180.28 L379.28,180.67 L380.16,181.04 L381.03,181.41 L381.90,181.77 L382.77,182.11 L383.65,182.45 L384.52,182.77 L385.39,183.09 L386.26,183.39 L387.14,183.69 L388.01,183.98 L388.88,184.26 L389.75,184.53 L390.63,184.79 L391.50,185.05 L392.37,185.30 L393.24,185.54 L394.12,185.78 L394.99,186.00 L395.86,186.23 L396.73,186.44 L397.61,186.65 L398.48,186.85 L399.35,187.05 L400.22,187.24 L401.09,187.43 L401.97,187.61 L402.84,187.79 L403.71,187.96 L404.58,188.13 L405.46,188.29 L406.33,188.45 L407.20,188.61 L408.07,188.76 L408.95,188.90 L409.82,189.05 L410.69,189.19 L411.56,189.32 L412.44,189.45 L413.31,189.58 L414.18,189.71 L415.05,189.83 L415.93,189.95 L416.80,190.06 L417.67,190.18 L418.54,190.29 L419.42,190.39 L420.29,190.50" fill="none" stroke="#000" stroke-width="1.5"/>
<path d="M315.60,133.80 L316.47,133.92 L317.34,134.21 L318.22,134.64 L319.09,135.20 L319.96,135.86 L320.83,136.62 L321.71,137.46 L322.58,138.38 L323.45,139.35 L324.32,140.38 L325.20,141.44 L326.07,142.53 L326.94,143.65 L327.81,144.78 L328.69,145.92 L329.56,147.06 L330.43,148.20 L331.30,149.33 L332.18,150.44 L333.05,151.54 L333.92,152.63 L334.79,153.69 L335.67,154.73 L336.54,155.74 L337.41,156.73 L338.28,157.70 L339.15,158.63 L340.03,159.54 L340.90,160.43 L341.77,161.28 L342.64,162.11 L343.52,162.91 L344.39,163.69 L345.26,164.44 L346.13,165.16 L347.01,165.86 L347.88,166.54 L348.75,167.19 L349.62,167.82 L350.50,168.43 L351.37,169.02 L352.24,169.58 L353.11,170.13 L353.99,170.66 L354.86,171.17 L355.73,171.66 L356.60,172.13 L357.48,172.59 L358.35,173.03 L359.22,173.46 L360.09,173.87 L360.96,174.27 L361.84,174.65 L362.71,175.02 L363.58,175.38 L364.45,175.73 L365.33,176.07 L366.20,176.39 L367.07,176.71 L367.94,177.01 L368.82,177.30 L369.69,177.59 L370.56,177.86 L371.43,178.13 L372.31,178.39 L373.18,178.64 L374.05,178.88 L374.92,179.12 L375.80,179.35 L376.67,179.57 L377.54,179.78 L378.41,179.99 L379.28,180.19 L380.16,180.39 L381.03,180.58 L381.90,180.76 L382.77,180.94 L383.65,181.12 L384.52,181.29 L385.39,181.45 L386.26,181.61 L387.14,181.77 L388.01,181.92 L388.88,182.07 L389.75,182.21 L390.63,182.35 L391.50,182.48 L392.37,182.62 L393.24,182.75 L394.12,182.87 L394.99,182.99 L395.86,183.11 L396.73,183.23 L397.61,183.34 L398.48,183.45 L399.35,183.56 L400.22,183.67 L401.09,183.77 L401.97,183.87 L402.84,183.97 L403.71,184.06 L404.58,184.15 L405.46,184.24 L406.33,184.33 L407.20,184.42 L408.07,184.50 L408.95,184.59 L409.82,184.67 L410.69,184.75 L411.56,184.82 L412.44,184.90 L413.31,184.97 L414.18,185.05 L415.05,185.12 L415.93,185.19 L416.80,185.25 L417.67,185.32 L418.54,185.38 L419.42,185.45 L420.29,185.51" fill="none" stroke="#000" stroke-width="1.5"/>
<path d="M315.60,127.87 L316.47,127.87 L317.34,127.87 L318.22,127.87 L319.09,127.87 L319.96,127.87 L320.83,127.87 L321.71,127.87 L322.58,127.87 L323.45,127.87 L324.32,127.87 L325.20,127.87 L326.07,127.87 L326.94,127.87 L327.81,127.87 L328.69,127.87 L329.56,127.87 L330.43,127.87 L331.30,127.87 L332.18,127.87 L333.05,127.87 L333.92,127.87 L334.79,127.87 L335.67,127.87 L336.54,127.87 L337.41,127.87 L338.28,127.87 L339.15,127.87 L340.03,127.87 L340.90,127.87 L341.77,127.87 L342.64,127.87 L343.52,127.87 L344.39,127.87 L345.26,127.87 L346.13,127.87 L347.01,127.87 L347.88,127.87 L348.75,127.87 L349.62,127.87 L350.50,127.87 L351.37,127.87 L352.24,127.87 L353.11,127.87 L353.99,127.87 L354.86,127.87 L355.73,127.87 L356.60,127.88 L357.48,127.88 L358.35,127.88 L359.22,127.88 L360.09,127.89 L360.96,127.90 L361.84,127.91 L362.71,127.93 L363.58,127.95 L364.45,127.98 L365.33,128.03 L366.20,128.09 L367.07,128.17 L367.94,128.28 L368.82,128.43 L369.69,128.62 L370.56,128.89 L371.43,129.23 L372.31,129.68 L373.18,130.27 L374.05,131.02 L374.92,131.97 L375.80,133.16 L376.67,134.63 L377.54,136.42 L378.41,138.55 L379.28,141.03 L380.16,143.86 L381.03,147.00 L381.90,150.39 L382.77,153.93 L383.65,157.53 L384.52,161.08 L385.39,164.48 L386.26,167.65 L387.14,170.54 L388.01,173.11 L388.88,175.36 L389.75,177.30 L390.63,178.94 L391.50,180.33 L392.37,181.48 L393.24,182.44 L394.12,183.23 L394.99,183.88 L395.86,184.41 L396.73,184.85 L397.61,185.20 L398.48,185.50 L399.35,185.73 L400.22,185.93 L401.09,186.09 L401.97,186.22 L402.84,186.33 L403.71,186.41 L404.58,186.49 L405.46,186.55 L406.33,186.59 L407.20,186.64 L408.07,186.67 L408.95,186.70 L409.82,186.72 L410.69,186.74 L411.56,186.76 L412.44,186.77 L413.31,186.78 L414.18,186.79 L415.05,186.80 L415.93,186.80 L416.80,186.81 L417.67,186.81 L418.54,186.82 L419.42,186.82 L420.29,186.82" fill="none" stroke="#d41a30" stroke-width="1.5"/>
<rect x="314.00" y="126.27" width="3.20" height="3.20" fill="#d41a30"/>
<rect x="320.53" y="126.27" width="3.20" height="3.20" fill="#d41a30"/>
<rect x="327.06" y="121.59" width="3.20" height="3.20" fill="#d41a30"/>
<rect x="340.13" y="121.59" width="3.20" height="3.20" fill="#d41a30"/>
<rect x="366.26" y="126.67" width="3.20" height="3.20" fill="#d41a30"/>
<rect x="418.69" y="185.22" width="3.20" height="3.20" fill="#d41a30"/>
<rect x="314.10" y="132.30" width="3.00" height="3.00" fill="#fff" stroke="#000" stroke-width="0.8"/>
<rect x="320.63" y="136.40" width="3.00" height="3.00" fill="#fff" stroke="#000" stroke-width="0.8"/>
<rect x="327.17" y="144.39" width="3.00" height="3.00" fill="#fff" stroke="#000" stroke-width="0.8"/>
<rect x="340.23" y="159.74" width="3.00" height="3.00" fill="#fff" stroke="#000" stroke-width="0.8"/>
<rect x="366.36" y="175.48" width="3.00" height="3.00" fill="#fff" stroke="#000" stroke-width="0.8"/>
<rect x="418.79" y="184.01" width="3.00" height="3.00" fill="#fff" stroke="#000" stroke-width="0.8"/>
<circle cx="315.60" cy="133.80" r="1.70" fill="#000"/>
<circle cx="322.13" cy="133.82" r="1.70" fill="#000"/>
<circle cx="328.67" cy="134.08" r="1.70" fill="#000"/>
<circle cx="341.73" cy="136.81" r="1.70" fill="#000"/>
<circle cx="367.86" cy="156.17" r="1.70" fill="#000"/>
<circle cx="420.29" cy="185.57" r="1.70" fill="#000"/>
<path d="M315.60,131.80 L317.50,135.20 L313.70,135.20 Z" fill="#000"/>
<path d="M322.13,131.90 L324.03,135.30 L320.23,135.30 Z" fill="#000"/>
<path d="M328.67,132.60 L330.56,136.00 L326.77,136.00 Z" fill="#000"/>
<path d="M341.73,137.63 L343.63,141.03 L339.83,141.03 Z" fill="#000"/>
<path d="M367.86,158.81 L369.76,162.21 L365.96,162.21 Z" fill="#000"/>
<path d="M420.29,181.31 L422.19,184.71 L418.39,184.71 Z" fill="#000"/>
<path d="M315.60,131.90 L317.20,133.80 L315.60,135.70 L314.00,133.80 Z" fill="#000"/>
<path d="M322.13,132.30 L323.73,134.20 L322.13,136.10 L320.53,134.20 Z" fill="#000"/>
<path d="M328.67,134.25 L330.27,136.15 L328.67,138.05 L327.06,136.15 Z" fill="#000"/>
<path d="M341.73,143.66 L343.33,145.56 L341.73,147.46 L340.13,145.56 Z" fill="#000"/>
<path d="M367.86,166.51 L369.46,168.41 L367.86,170.31 L366.26,168.41 Z" fill="#000"/>
<path d="M420.29,182.85 L421.89,184.75 L420.29,186.65 L418.69,184.75 Z" fill="#000"/>
<path d="M315.60,135.80 L317.50,132.40 L313.70,132.40 Z" fill="#000"/>
<path d="M322.13,136.59 L324.03,133.19 L320.23,133.19 Z" fill="#000"/>
<path d="M328.67,139.74 L330.56,136.34 L326.77,136.34 Z" fill="#000"/>
<path d="M341.73,152.17 L343.63,148.77 L339.83,148.77 Z" fill="#000"/>
<path d="M367.86,176.51 L369.76,173.11 L365.96,173.11 Z" fill="#000"/>
<path d="M420.29,192.50 L422.19,189.10 L418.39,189.10 Z" fill="#000"/>
<path d="M322.13,128.48 L324.23,132.18 L320.03,132.18 Z" fill="#98923e" stroke="#000" stroke-width="0.8"/>
<path d="M328.67,129.10 L330.77,132.80 L326.56,132.80 Z" fill="#98923e" stroke="#000" stroke-width="0.8"/>
<path d="M341.73,132.85 L343.83,136.55 L339.63,136.55 Z" fill="#98923e" stroke="#000" stroke-width="0.8"/>
<path d="M367.86,130.35 L369.96,134.05 L365.76,134.05 Z" fill="#98923e" stroke="#000" stroke-width="0.8"/>
<line x1="315.60" y1="196.20" x2="315.60" y2="117.90" stroke="#000" stroke-width="1.3" />
<line x1="315.00" y1="196.20" x2="449.90" y2="196.20" stroke="#000" stroke-width="1.3" />
<line x1="312.80" y1="196.20" x2="315.60" y2="196.20" stroke="#000" stroke-width="1" />
<text x="312.20" y="198.40" font-size="6.3" font-weight="bold" text-anchor="end" fill="#000" stroke="#000" stroke-width="0.2">0.00</text>
<line x1="312.80" y1="180.60" x2="315.60" y2="180.60" stroke="#000" stroke-width="1" />
<text x="312.20" y="182.80" font-size="6.3" font-weight="bold" text-anchor="end" fill="#000" stroke="#000" stroke-width="0.2">0.25</text>
<line x1="312.80" y1="165.00" x2="315.60" y2="165.00" stroke="#000" stroke-width="1" />
<text x="312.20" y="167.20" font-size="6.3" font-weight="bold" text-anchor="end" fill="#000" stroke="#000" stroke-width="0.2">0.50</text>
<line x1="312.80" y1="149.40" x2="315.60" y2="149.40" stroke="#000" stroke-width="1" />
<text x="312.20" y="151.60" font-size="6.3" font-weight="bold" text-anchor="end" fill="#000" stroke="#000" stroke-width="0.2">0.75</text>
<line x1="312.80" y1="133.80" x2="315.60" y2="133.80" stroke="#000" stroke-width="1" />
<text x="312.20" y="136.00" font-size="6.3" font-weight="bold" text-anchor="end" fill="#000" stroke="#000" stroke-width="0.2">1.00</text>
<line x1="312.80" y1="118.20" x2="315.60" y2="118.20" stroke="#000" stroke-width="1" />
<text x="312.20" y="120.40" font-size="6.3" font-weight="bold" text-anchor="end" fill="#000" stroke="#000" stroke-width="0.2">1.25</text>
<line x1="315.60" y1="196.20" x2="315.60" y2="198.80" stroke="#000" stroke-width="1" />
<text x="315.60" y="204.80" font-size="6.3" font-weight="bold" text-anchor="middle" fill="#000" stroke="#000" stroke-width="0.2">0</text>
<line x1="349.10" y1="196.20" x2="349.10" y2="198.80" stroke="#000" stroke-width="1" />
<text x="349.10" y="204.80" font-size="6.3" font-weight="bold" text-anchor="middle" fill="#000" stroke="#000" stroke-width="0.2">10</text>
<line x1="382.60" y1="196.20" x2="382.60" y2="198.80" stroke="#000" stroke-width="1" />
<text x="382.60" y="204.80" font-size="6.3" font-weight="bold" text-anchor="middle" fill="#000" stroke="#000" stroke-width="0.2">20</text>
<line x1="416.10" y1="196.20" x2="416.10" y2="198.80" stroke="#000" stroke-width="1" />
<text x="416.10" y="204.80" font-size="6.3" font-weight="bold" text-anchor="middle" fill="#000" stroke="#000" stroke-width="0.2">30</text>
<line x1="449.60" y1="196.20" x2="449.60" y2="198.80" stroke="#000" stroke-width="1" />
<text x="449.60" y="204.80" font-size="6.3" font-weight="bold" text-anchor="middle" fill="#000" stroke="#000" stroke-width="0.2">40</text>
<text x="383.00" y="213.60" font-size="7.3" font-weight="bold" text-anchor="middle" fill="#000"  stroke="#000" stroke-width="0.2">PR047 nM</text>
<text x="292.80" y="164.20" font-size="6.4" font-weight="bold" text-anchor="middle" fill="#000" stroke="#000" stroke-width="0.25" transform="rotate(-90 292.80 164.20)">Viability</text>
<rect x="456.20" y="121.40" width="3.20" height="3.20" fill="#d41a30"/>
<text x="466.80" y="125.60" font-size="7.15" font-weight="normal" text-anchor="start" fill="#222" >GFP control</text>
<path d="M457.80,130.10 L459.70,133.50 L455.90,133.50 Z" fill="#000"/>
<text x="466.80" y="134.70" font-size="7.15" font-weight="normal" text-anchor="start" fill="#222" >CDK5 shRNA 1</text>
<path d="M457.80,143.20 L459.70,139.80 L455.90,139.80 Z" fill="#000"/>
<text x="466.80" y="143.80" font-size="7.15" font-weight="normal" text-anchor="start" fill="#222" >CDK5 shRNA 2</text>
<path d="M457.80,148.40 L459.40,150.30 L457.80,152.20 L456.20,150.30 Z" fill="#000"/>
<text x="466.80" y="152.90" font-size="7.15" font-weight="normal" text-anchor="start" fill="#222" >CDK5 shRNA 3</text>
<circle cx="457.80" cy="159.40" r="1.70" fill="#000"/>
<text x="466.80" y="162.00" font-size="7.15" font-weight="normal" text-anchor="start" fill="#222" >CDK5 shRNA 4</text>
<rect x="456.30" y="167.00" width="3.00" height="3.00" fill="#fff" stroke="#000" stroke-width="0.8"/>
<text x="466.80" y="171.10" font-size="7.15" font-weight="normal" text-anchor="start" fill="#222" >CDK5 shRNA 5</text>
<path d="M457.80,175.40 L459.90,179.10 L455.70,179.10 Z" fill="#98923e" stroke="#000" stroke-width="0.8"/>
<text x="466.80" y="180.20" font-size="7.15" font-weight="normal" text-anchor="start" fill="#222" >OPM1</text>
<path d="M320.00,237.00 L320.94,237.00 L321.88,237.02 L322.83,237.05 L323.77,237.09 L324.71,237.16 L325.65,237.25 L326.60,237.36 L327.54,237.49 L328.48,237.65 L329.43,237.84 L330.37,238.05 L331.31,238.28 L332.25,238.55 L333.19,238.84 L334.14,239.16 L335.08,239.51 L336.02,239.88 L336.96,240.29 L337.91,240.72 L338.85,241.17 L339.79,241.65 L340.74,242.15 L341.68,242.68 L342.62,243.23 L343.56,243.80 L344.50,244.39 L345.45,245.00 L346.39,245.63 L347.33,246.28 L348.27,246.94 L349.22,247.61 L350.16,248.30 L351.10,249.00 L352.05,249.71 L352.99,250.43 L353.93,251.16 L354.87,251.89 L355.81,252.63 L356.76,253.37 L357.70,254.11 L358.64,254.86 L359.58,255.61 L360.53,256.35 L361.47,257.10 L362.41,257.84 L363.36,258.58 L364.30,259.31 L365.24,260.04 L366.18,260.76 L367.12,261.48 L368.07,262.19 L369.01,262.89 L369.95,263.59 L370.89,264.28 L371.84,264.95 L372.78,265.62 L373.72,266.28 L374.67,266.93 L375.61,267.57 L376.55,268.20 L377.49,268.82 L378.44,269.43 L379.38,270.02 L380.32,270.61 L381.26,271.19 L382.20,271.75 L383.15,272.31 L384.09,272.85 L385.03,273.38 L385.98,273.91 L386.92,274.42 L387.86,274.92 L388.80,275.41 L389.75,275.89 L390.69,276.36 L391.63,276.82 L392.57,277.27 L393.51,277.71 L394.46,278.14 L395.40,278.56 L396.34,278.97 L397.28,279.38 L398.23,279.77 L399.17,280.15 L400.11,280.53 L401.06,280.90 L402.00,281.26 L402.94,281.61 L403.88,281.95 L404.82,282.29 L405.77,282.61 L406.71,282.93 L407.65,283.25 L408.60,283.55 L409.54,283.85 L410.48,284.14 L411.42,284.43 L412.37,284.70 L413.31,284.98 L414.25,285.24 L415.19,285.50 L416.13,285.76 L417.08,286.00 L418.02,286.25 L418.96,286.48 L419.90,286.71 L420.85,286.94 L421.79,287.16 L422.73,287.38 L423.68,287.59 L424.62,287.80 L425.56,288.00 L426.50,288.20 L427.44,288.39 L428.39,288.58 L429.33,288.76 L430.27,288.94 L431.22,289.12 L432.16,289.29 L433.10,289.46" fill="none" stroke="#000" stroke-width="1.5"/>
<path d="M320.00,237.00 L320.94,237.00 L321.88,237.00 L322.83,237.00 L323.77,237.00 L324.71,237.00 L325.65,237.01 L326.60,237.01 L327.54,237.02 L328.48,237.03 L329.43,237.04 L330.37,237.06 L331.31,237.08 L332.25,237.11 L333.19,237.15 L334.14,237.20 L335.08,237.26 L336.02,237.32 L336.96,237.41 L337.91,237.51 L338.85,237.62 L339.79,237.75 L340.74,237.90 L341.68,238.08 L342.62,238.27 L343.56,238.49 L344.50,238.74 L345.45,239.01 L346.39,239.32 L347.33,239.65 L348.27,240.02 L349.22,240.42 L350.16,240.86 L351.10,241.33 L352.05,241.84 L352.99,242.39 L353.93,242.97 L354.87,243.59 L355.81,244.25 L356.76,244.95 L357.70,245.68 L358.64,246.46 L359.58,247.26 L360.53,248.10 L361.47,248.98 L362.41,249.88 L363.36,250.82 L364.30,251.78 L365.24,252.77 L366.18,253.78 L367.12,254.81 L368.07,255.85 L369.01,256.91 L369.95,257.98 L370.89,259.06 L371.84,260.15 L372.78,261.24 L373.72,262.33 L374.67,263.42 L375.61,264.51 L376.55,265.59 L377.49,266.66 L378.44,267.72 L379.38,268.77 L380.32,269.80 L381.26,270.82 L382.20,271.82 L383.15,272.80 L384.09,273.76 L385.03,274.70 L385.98,275.62 L386.92,276.51 L387.86,277.39 L388.80,278.24 L389.75,279.07 L390.69,279.87 L391.63,280.65 L392.57,281.41 L393.51,282.14 L394.46,282.85 L395.40,283.54 L396.34,284.20 L397.28,284.85 L398.23,285.47 L399.17,286.07 L400.11,286.64 L401.06,287.20 L402.00,287.74 L402.94,288.26 L403.88,288.76 L404.82,289.24 L405.77,289.71 L406.71,290.15 L407.65,290.58 L408.60,291.00 L409.54,291.40 L410.48,291.78 L411.42,292.15 L412.37,292.50 L413.31,292.85 L414.25,293.18 L415.19,293.49 L416.13,293.80 L417.08,294.09 L418.02,294.37 L418.96,294.64 L419.90,294.90 L420.85,295.16 L421.79,295.40 L422.73,295.63 L423.68,295.86 L424.62,296.07 L425.56,296.28 L426.50,296.48 L427.44,296.67 L428.39,296.86 L429.33,297.04 L430.27,297.21 L431.22,297.38 L432.16,297.54 L433.10,297.69" fill="none" stroke="#000" stroke-width="1.5"/>
<path d="M320.00,237.00 L320.94,237.00 L321.88,237.03 L322.83,237.07 L323.77,237.14 L324.71,237.25 L325.65,237.40 L326.60,237.58 L327.54,237.81 L328.48,238.08 L329.43,238.40 L330.37,238.77 L331.31,239.18 L332.25,239.65 L333.19,240.16 L334.14,240.73 L335.08,241.34 L336.02,242.00 L336.96,242.71 L337.91,243.46 L338.85,244.26 L339.79,245.09 L340.74,245.96 L341.68,246.87 L342.62,247.82 L343.56,248.79 L344.50,249.79 L345.45,250.81 L346.39,251.85 L347.33,252.91 L348.27,253.99 L349.22,255.08 L350.16,256.17 L351.10,257.27 L352.05,258.38 L352.99,259.48 L353.93,260.58 L354.87,261.68 L355.81,262.78 L356.76,263.86 L357.70,264.93 L358.64,266.00 L359.58,267.05 L360.53,268.08 L361.47,269.10 L362.41,270.10 L363.36,271.09 L364.30,272.05 L365.24,273.00 L366.18,273.93 L367.12,274.84 L368.07,275.72 L369.01,276.59 L369.95,277.44 L370.89,278.26 L371.84,279.07 L372.78,279.85 L373.72,280.62 L374.67,281.36 L375.61,282.08 L376.55,282.79 L377.49,283.47 L378.44,284.14 L379.38,284.79 L380.32,285.42 L381.26,286.03 L382.20,286.62 L383.15,287.19 L384.09,287.75 L385.03,288.30 L385.98,288.82 L386.92,289.33 L387.86,289.83 L388.80,290.31 L389.75,290.78 L390.69,291.23 L391.63,291.67 L392.57,292.10 L393.51,292.51 L394.46,292.91 L395.40,293.30 L396.34,293.68 L397.28,294.05 L398.23,294.40 L399.17,294.75 L400.11,295.08 L401.06,295.41 L402.00,295.72 L402.94,296.03 L403.88,296.33 L404.82,296.62 L405.77,296.90 L406.71,297.17 L407.65,297.43 L408.60,297.69 L409.54,297.94 L410.48,298.18 L411.42,298.42 L412.37,298.65 L413.31,298.87 L414.25,299.09 L415.19,299.30 L416.13,299.50 L417.08,299.70 L418.02,299.90 L418.96,300.09 L419.90,300.27 L420.85,300.45 L421.79,300.62 L422.73,300.79 L423.68,300.96 L424.62,301.12 L425.56,301.27 L426.50,301.42 L427.44,301.57 L428.39,301.72 L429.33,301.86 L430.27,301.99 L431.22,302.13 L432.16,302.26 L433.10,302.38" fill="none" stroke="#000" stroke-width="1.5"/>
<path d="M320.00,237.00 L320.94,237.01 L321.88,237.03 L322.83,237.10 L323.77,237.20 L324.71,237.34 L325.65,237.54 L326.60,237.79 L327.54,238.10 L328.48,238.46 L329.43,238.89 L330.37,239.38 L331.31,239.93 L332.25,240.54 L333.19,241.22 L334.14,241.95 L335.08,242.73 L336.02,243.57 L336.96,244.46 L337.91,245.40 L338.85,246.37 L339.79,247.39 L340.74,248.43 L341.68,249.51 L342.62,250.61 L343.56,251.72 L344.50,252.85 L345.45,254.00 L346.39,255.14 L347.33,256.29 L348.27,257.44 L349.22,258.58 L350.16,259.72 L351.10,260.84 L352.05,261.95 L352.99,263.04 L353.93,264.11 L354.87,265.17 L355.81,266.20 L356.76,267.21 L357.70,268.20 L358.64,269.16 L359.58,270.10 L360.53,271.01 L361.47,271.90 L362.41,272.76 L363.36,273.60 L364.30,274.41 L365.24,275.19 L366.18,275.95 L367.12,276.68 L368.07,277.39 L369.01,278.08 L369.95,278.74 L370.89,279.38 L371.84,280.00 L372.78,280.60 L373.72,281.18 L374.67,281.73 L375.61,282.27 L376.55,282.79 L377.49,283.28 L378.44,283.77 L379.38,284.23 L380.32,284.68 L381.26,285.11 L382.20,285.52 L383.15,285.93 L384.09,286.31 L385.03,286.69 L385.98,287.05 L386.92,287.39 L387.86,287.73 L388.80,288.05 L389.75,288.37 L390.69,288.67 L391.63,288.96 L392.57,289.24 L393.51,289.51 L394.46,289.77 L395.40,290.03 L396.34,290.27 L397.28,290.51 L398.23,290.74 L399.17,290.96 L400.11,291.17 L401.06,291.38 L402.00,291.58 L402.94,291.77 L403.88,291.96 L404.82,292.14 L405.77,292.31 L406.71,292.48 L407.65,292.65 L408.60,292.81 L409.54,292.96 L410.48,293.11 L411.42,293.26 L412.37,293.40 L413.31,293.53 L414.25,293.67 L415.19,293.79 L416.13,293.92 L417.08,294.04 L418.02,294.16 L418.96,294.27 L419.90,294.38 L420.85,294.49 L421.79,294.59 L422.73,294.69 L423.68,294.79 L424.62,294.89 L425.56,294.98 L426.50,295.07 L427.44,295.16 L428.39,295.24 L429.33,295.33 L430.27,295.41 L431.22,295.49 L432.16,295.56 L433.10,295.64" fill="none" stroke="#000" stroke-width="1.5"/>
<path d="M320.00,237.00 L320.94,237.05 L321.88,237.21 L322.83,237.52 L323.77,237.97 L324.71,238.56 L325.65,239.31 L326.60,240.19 L327.54,241.21 L328.48,242.35 L329.43,243.59 L330.37,244.94 L331.31,246.36 L332.25,247.85 L333.19,249.39 L334.14,250.96 L335.08,252.56 L336.02,254.17 L336.96,255.78 L337.91,257.38 L338.85,258.96 L339.79,260.51 L340.74,262.03 L341.68,263.50 L342.62,264.94 L343.56,266.33 L344.50,267.68 L345.45,268.97 L346.39,270.22 L347.33,271.41 L348.27,272.56 L349.22,273.66 L350.16,274.71 L351.10,275.71 L352.05,276.67 L352.99,277.58 L353.93,278.45 L354.87,279.28 L355.81,280.07 L356.76,280.83 L357.70,281.54 L358.64,282.23 L359.58,282.88 L360.53,283.50 L361.47,284.09 L362.41,284.66 L363.36,285.19 L364.30,285.71 L365.24,286.20 L366.18,286.66 L367.12,287.11 L368.07,287.53 L369.01,287.94 L369.95,288.32 L370.89,288.69 L371.84,289.05 L372.78,289.38 L373.72,289.71 L374.67,290.02 L375.61,290.31 L376.55,290.60 L377.49,290.87 L378.44,291.13 L379.38,291.38 L380.32,291.62 L381.26,291.84 L382.20,292.06 L383.15,292.28 L384.09,292.48 L385.03,292.67 L385.98,292.86 L386.92,293.04 L387.86,293.22 L388.80,293.38 L389.75,293.54 L390.69,293.70 L391.63,293.85 L392.57,293.99 L393.51,294.13 L394.46,294.26 L395.40,294.39 L396.34,294.52 L397.28,294.64 L398.23,294.75 L399.17,294.87 L400.11,294.97 L401.06,295.08 L402.00,295.18 L402.94,295.28 L403.88,295.37 L404.82,295.46 L405.77,295.55 L406.71,295.64 L407.65,295.72 L408.60,295.80 L409.54,295.88 L410.48,295.96 L411.42,296.03 L412.37,296.10 L413.31,296.17 L414.25,296.24 L415.19,296.30 L416.13,296.37 L417.08,296.43 L418.02,296.49 L418.96,296.54 L419.90,296.60 L420.85,296.66 L421.79,296.71 L422.73,296.76 L423.68,296.81 L424.62,296.86 L425.56,296.91 L426.50,296.95 L427.44,297.00 L428.39,297.04 L429.33,297.09 L430.27,297.13 L431.22,297.17 L432.16,297.21 L433.10,297.25" fill="none" stroke="#000" stroke-width="1.5"/>
<path d="M320.00,237.00 L320.94,237.00 L321.88,237.00 L322.83,237.00 L323.77,237.00 L324.71,237.00 L325.65,237.00 L326.60,237.00 L327.54,237.00 L328.48,237.01 L329.43,237.01 L330.37,237.02 L331.31,237.03 L332.25,237.04 L333.19,237.06 L334.14,237.08 L335.08,237.11 L336.02,237.14 L336.96,237.18 L337.91,237.23 L338.85,237.29 L339.79,237.36 L340.74,237.45 L341.68,237.54 L342.62,237.66 L343.56,237.79 L344.50,237.94 L345.45,238.11 L346.39,238.30 L347.33,238.52 L348.27,238.77 L349.22,239.04 L350.16,239.34 L351.10,239.68 L352.05,240.05 L352.99,240.45 L353.93,240.89 L354.87,241.37 L355.81,241.89 L356.76,242.45 L357.70,243.06 L358.64,243.70 L359.58,244.39 L360.53,245.12 L361.47,245.90 L362.41,246.72 L363.36,247.58 L364.30,248.48 L365.24,249.43 L366.18,250.41 L367.12,251.43 L368.07,252.49 L369.01,253.57 L369.95,254.69 L370.89,255.84 L371.84,257.01 L372.78,258.20 L373.72,259.41 L374.67,260.64 L375.61,261.88 L376.55,263.12 L377.49,264.37 L378.44,265.62 L379.38,266.87 L380.32,268.12 L381.26,269.36 L382.20,270.59 L383.15,271.80 L384.09,273.00 L385.03,274.18 L385.98,275.34 L386.92,276.49 L387.86,277.60 L388.80,278.70 L389.75,279.77 L390.69,280.81 L391.63,281.83 L392.57,282.81 L393.51,283.77 L394.46,284.70 L395.40,285.61 L396.34,286.48 L397.28,287.33 L398.23,288.14 L399.17,288.93 L400.11,289.69 L401.06,290.43 L402.00,291.14 L402.94,291.82 L403.88,292.48 L404.82,293.11 L405.77,293.71 L406.71,294.30 L407.65,294.86 L408.60,295.40 L409.54,295.92 L410.48,296.41 L411.42,296.89 L412.37,297.35 L413.31,297.79 L414.25,298.21 L415.19,298.61 L416.13,299.00 L417.08,299.37 L418.02,299.73 L418.96,300.07 L419.90,300.40 L420.85,300.71 L421.79,301.02 L422.73,301.31 L423.68,301.58 L424.62,301.85 L425.56,302.11 L426.50,302.35 L427.44,302.59 L428.39,302.81 L429.33,303.03 L430.27,303.24 L431.22,303.44 L432.16,303.63 L433.10,303.81" fill="none" stroke="#d41a30" stroke-width="1.5"/>
<rect x="318.40" y="235.40" width="3.20" height="3.20" fill="#d41a30"/>
<rect x="337.25" y="235.69" width="3.20" height="3.20" fill="#d41a30"/>
<rect x="356.10" y="241.46" width="3.20" height="3.20" fill="#d41a30"/>
<rect x="393.80" y="284.01" width="3.20" height="3.20" fill="#d41a30"/>
<rect x="431.50" y="302.21" width="3.20" height="3.20" fill="#d41a30"/>
<rect x="318.50" y="235.50" width="3.00" height="3.00" fill="#fff" stroke="#000" stroke-width="0.8"/>
<rect x="337.35" y="257.46" width="3.00" height="3.00" fill="#fff" stroke="#000" stroke-width="0.8"/>
<rect x="356.20" y="280.04" width="3.00" height="3.00" fill="#fff" stroke="#000" stroke-width="0.8"/>
<rect x="393.90" y="292.89" width="3.00" height="3.00" fill="#fff" stroke="#000" stroke-width="0.8"/>
<rect x="431.60" y="295.75" width="3.00" height="3.00" fill="#fff" stroke="#000" stroke-width="0.8"/>
<circle cx="320.00" cy="237.00" r="1.70" fill="#000"/>
<circle cx="338.85" cy="241.17" r="1.70" fill="#000"/>
<circle cx="357.70" cy="254.11" r="1.70" fill="#000"/>
<circle cx="395.40" cy="278.56" r="1.70" fill="#000"/>
<circle cx="433.10" cy="289.46" r="1.70" fill="#000"/>
<path d="M320.00,235.00 L321.90,238.40 L318.10,238.40 Z" fill="#000"/>
<path d="M338.85,235.62 L340.75,239.02 L336.95,239.02 Z" fill="#000"/>
<path d="M357.70,243.68 L359.60,247.08 L355.80,247.08 Z" fill="#000"/>
<path d="M395.40,281.54 L397.30,284.94 L393.50,284.94 Z" fill="#000"/>
<path d="M433.10,295.69 L435.00,299.09 L431.20,299.09 Z" fill="#000"/>
<path d="M320.00,235.10 L321.60,237.00 L320.00,238.90 L318.40,237.00 Z" fill="#000"/>
<path d="M338.85,242.36 L340.45,244.26 L338.85,246.16 L337.25,244.26 Z" fill="#000"/>
<path d="M357.70,263.03 L359.30,264.93 L357.70,266.83 L356.10,264.93 Z" fill="#000"/>
<path d="M395.40,291.40 L397.00,293.30 L395.40,295.20 L393.80,293.30 Z" fill="#000"/>
<path d="M433.10,300.48 L434.70,302.38 L433.10,304.28 L431.50,302.38 Z" fill="#000"/>
<path d="M320.00,239.00 L321.90,235.60 L318.10,235.60 Z" fill="#000"/>
<path d="M338.85,248.37 L340.75,244.97 L336.95,244.97 Z" fill="#000"/>
<path d="M357.70,270.20 L359.60,266.80 L355.80,266.80 Z" fill="#000"/>
<path d="M395.40,292.03 L397.30,288.63 L393.50,288.63 Z" fill="#000"/>
<path d="M433.10,297.64 L435.00,294.24 L431.20,294.24 Z" fill="#000"/>
<path d="M338.85,238.80 L340.95,242.50 L336.75,242.50 Z" fill="#98923e" stroke="#000" stroke-width="0.8"/>
<path d="M357.70,241.20 L359.80,244.90 L355.60,244.90 Z" fill="#98923e" stroke="#000" stroke-width="0.8"/>
<line x1="320.00" y1="317.00" x2="320.00" y2="228.70" stroke="#000" stroke-width="1.3" />
<line x1="319.40" y1="317.00" x2="452.25" y2="317.00" stroke="#000" stroke-width="1.3" />
<line x1="317.20" y1="317.00" x2="320.00" y2="317.00" stroke="#000" stroke-width="1" />
<text x="316.60" y="319.20" font-size="6.3" font-weight="bold" text-anchor="end" fill="#000" stroke="#000" stroke-width="0.2">0.0</text>
<line x1="317.20" y1="309.00" x2="320.00" y2="309.00" stroke="#000" stroke-width="1" />
<text x="316.60" y="311.20" font-size="6.3" font-weight="bold" text-anchor="end" fill="#000" stroke="#000" stroke-width="0.2">0.1</text>
<line x1="317.20" y1="301.00" x2="320.00" y2="301.00" stroke="#000" stroke-width="1" />
<text x="316.60" y="303.20" font-size="6.3" font-weight="bold" text-anchor="end" fill="#000" stroke="#000" stroke-width="0.2">0.2</text>
<line x1="317.20" y1="293.00" x2="320.00" y2="293.00" stroke="#000" stroke-width="1" />
<text x="316.60" y="295.20" font-size="6.3" font-weight="bold" text-anchor="end" fill="#000" stroke="#000" stroke-width="0.2">0.3</text>
<line x1="317.20" y1="285.00" x2="320.00" y2="285.00" stroke="#000" stroke-width="1" />
<text x="316.60" y="287.20" font-size="6.3" font-weight="bold" text-anchor="end" fill="#000" stroke="#000" stroke-width="0.2">0.4</text>
<line x1="317.20" y1="277.00" x2="320.00" y2="277.00" stroke="#000" stroke-width="1" />
<text x="316.60" y="279.20" font-size="6.3" font-weight="bold" text-anchor="end" fill="#000" stroke="#000" stroke-width="0.2">0.5</text>
<line x1="317.20" y1="269.00" x2="320.00" y2="269.00" stroke="#000" stroke-width="1" />
<text x="316.60" y="271.20" font-size="6.3" font-weight="bold" text-anchor="end" fill="#000" stroke="#000" stroke-width="0.2">0.6</text>
<line x1="317.20" y1="261.00" x2="320.00" y2="261.00" stroke="#000" stroke-width="1" />
<text x="316.60" y="263.20" font-size="6.3" font-weight="bold" text-anchor="end" fill="#000" stroke="#000" stroke-width="0.2">0.7</text>
<line x1="317.20" y1="253.00" x2="320.00" y2="253.00" stroke="#000" stroke-width="1" />
<text x="316.60" y="255.20" font-size="6.3" font-weight="bold" text-anchor="end" fill="#000" stroke="#000" stroke-width="0.2">0.8</text>
<line x1="317.20" y1="245.00" x2="320.00" y2="245.00" stroke="#000" stroke-width="1" />
<text x="316.60" y="247.20" font-size="6.3" font-weight="bold" text-anchor="end" fill="#000" stroke="#000" stroke-width="0.2">0.9</text>
<line x1="317.20" y1="237.00" x2="320.00" y2="237.00" stroke="#000" stroke-width="1" />
<text x="316.60" y="239.20" font-size="6.3" font-weight="bold" text-anchor="end" fill="#000" stroke="#000" stroke-width="0.2">1.0</text>
<line x1="317.20" y1="229.00" x2="320.00" y2="229.00" stroke="#000" stroke-width="1" />
<text x="316.60" y="231.20" font-size="6.3" font-weight="bold" text-anchor="end" fill="#000" stroke="#000" stroke-width="0.2">1.1</text>
<line x1="320.00" y1="317.00" x2="320.00" y2="319.60" stroke="#000" stroke-width="1" />
<text x="320.00" y="326.30" font-size="6.3" font-weight="bold" text-anchor="middle" fill="#000" stroke="#000" stroke-width="0.2">0.0</text>
<line x1="338.85" y1="317.00" x2="338.85" y2="319.60" stroke="#000" stroke-width="1" />
<text x="338.85" y="326.30" font-size="6.3" font-weight="bold" text-anchor="middle" fill="#000" stroke="#000" stroke-width="0.2">2.5</text>
<line x1="357.70" y1="317.00" x2="357.70" y2="319.60" stroke="#000" stroke-width="1" />
<text x="357.70" y="326.30" font-size="6.3" font-weight="bold" text-anchor="middle" fill="#000" stroke="#000" stroke-width="0.2">5.0</text>
<line x1="376.55" y1="317.00" x2="376.55" y2="319.60" stroke="#000" stroke-width="1" />
<text x="376.55" y="326.30" font-size="6.3" font-weight="bold" text-anchor="middle" fill="#000" stroke="#000" stroke-width="0.2">7.5</text>
<line x1="395.40" y1="317.00" x2="395.40" y2="319.60" stroke="#000" stroke-width="1" />
<text x="395.40" y="326.30" font-size="6.3" font-weight="bold" text-anchor="middle" fill="#000" stroke="#000" stroke-width="0.2">10.0</text>
<line x1="414.25" y1="317.00" x2="414.25" y2="319.60" stroke="#000" stroke-width="1" />
<text x="414.25" y="326.30" font-size="6.3" font-weight="bold" text-anchor="middle" fill="#000" stroke="#000" stroke-width="0.2">12.5</text>
<line x1="433.10" y1="317.00" x2="433.10" y2="319.60" stroke="#000" stroke-width="1" />
<text x="433.10" y="326.30" font-size="6.3" font-weight="bold" text-anchor="middle" fill="#000" stroke="#000" stroke-width="0.2">15.0</text>
<line x1="451.95" y1="317.00" x2="451.95" y2="319.60" stroke="#000" stroke-width="1" />
<text x="451.95" y="326.30" font-size="6.3" font-weight="bold" text-anchor="middle" fill="#000" stroke="#000" stroke-width="0.2">17.5</text>
<text x="386.20" y="336.50" font-size="7.3" font-weight="bold" text-anchor="middle" fill="#000"  stroke="#000" stroke-width="0.2">PR171 nM</text>
<text x="302.20" y="275.50" font-size="6.4" font-weight="bold" text-anchor="middle" fill="#000" stroke="#000" stroke-width="0.25" transform="rotate(-90 302.20 275.50)">Viability</text>
<rect x="456.20" y="233.00" width="3.20" height="3.20" fill="#d41a30"/>
<text x="466.80" y="237.20" font-size="7.1" font-weight="normal" text-anchor="start" fill="#222" >GFP control</text>
<path d="M457.80,242.67 L459.70,246.07 L455.90,246.07 Z" fill="#000"/>
<text x="466.80" y="247.27" font-size="7.1" font-weight="normal" text-anchor="start" fill="#222" >CDK5 shRNA 1</text>
<path d="M457.80,256.74 L459.70,253.34 L455.90,253.34 Z" fill="#000"/>
<text x="466.80" y="257.34" font-size="7.1" font-weight="normal" text-anchor="start" fill="#222" >CDK5 shRNA 2</text>
<path d="M457.80,262.91 L459.40,264.81 L457.80,266.71 L456.20,264.81 Z" fill="#000"/>
<text x="466.80" y="267.41" font-size="7.1" font-weight="normal" text-anchor="start" fill="#222" >CDK5 shRNA 3</text>
<circle cx="457.80" cy="274.88" r="1.70" fill="#000"/>
<text x="466.80" y="277.48" font-size="7.1" font-weight="normal" text-anchor="start" fill="#222" >CDK5 shRNA 4</text>
<rect x="456.30" y="283.45" width="3.00" height="3.00" fill="#fff" stroke="#000" stroke-width="0.8"/>
<text x="466.80" y="287.55" font-size="7.1" font-weight="normal" text-anchor="start" fill="#222" >CDK5 shRNA 5</text>
<path d="M457.80,292.82 L459.90,296.52 L455.70,296.52 Z" fill="#98923e" stroke="#000" stroke-width="0.8"/>
<text x="466.80" y="297.62" font-size="7.1" font-weight="normal" text-anchor="start" fill="#222" >OPM1</text>
</g>
</svg></body></html>
